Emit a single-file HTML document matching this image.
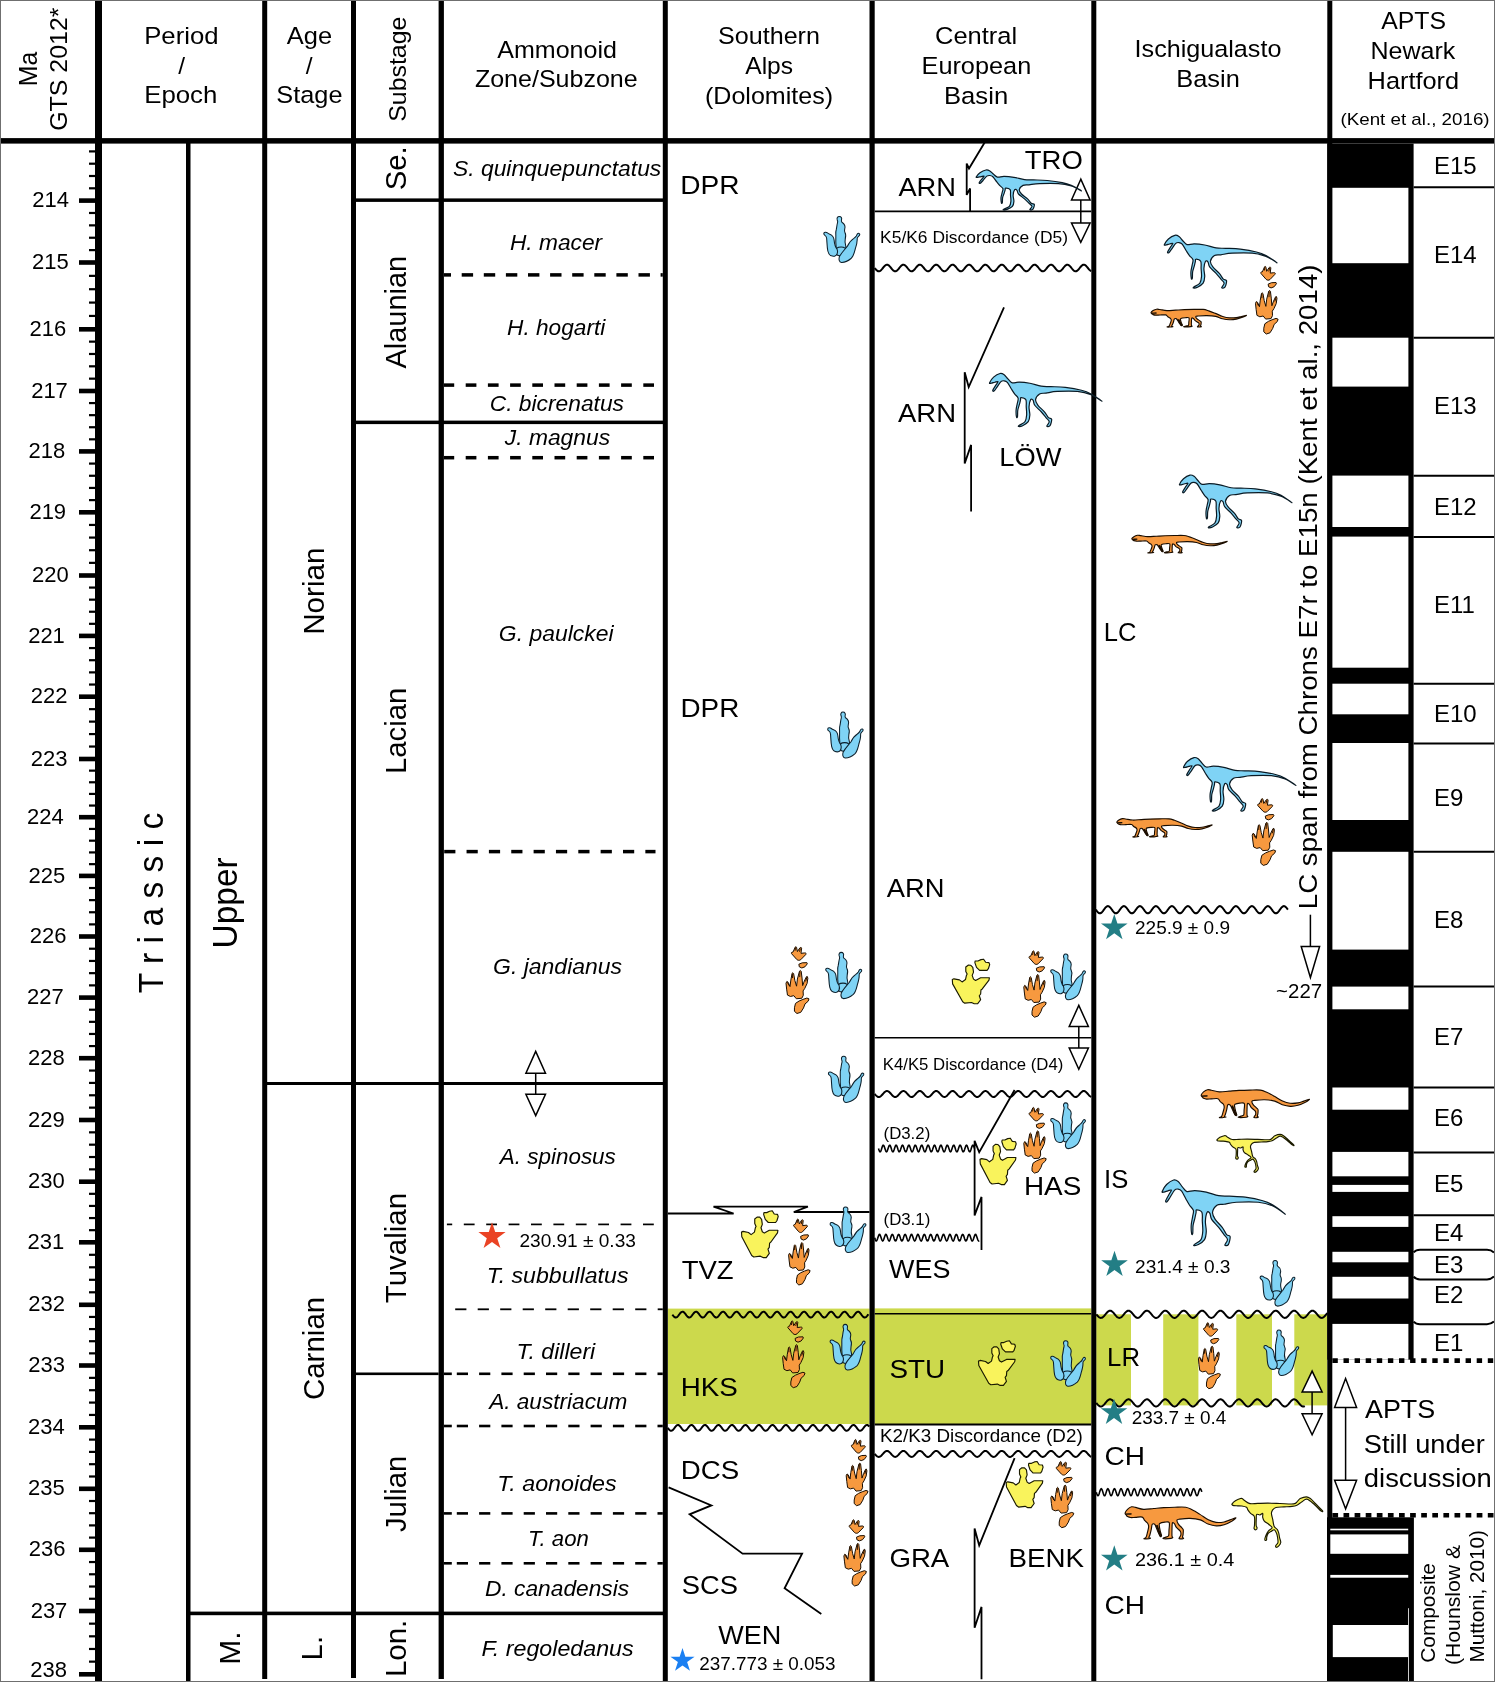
<!DOCTYPE html>
<html><head><meta charset="utf-8"><title>Triassic chronostratigraphy</title>
<style>html,body{margin:0;padding:0;background:#fff;} body{width:1495px;height:1682px;overflow:hidden;} svg{display:block;will-change:transform;} text{font-family:"Liberation Sans",sans-serif;}</style>
</head><body>
<svg width="1495" height="1682" viewBox="0 0 1495 1682" font-family='"Liberation Sans", sans-serif' fill="#000"><defs><g id="bfoot"><g transform="translate(-10.4,-1.3)"><path d="M25.6,1.2 C27.6,1.2 28.4,2.8 27.8,4.6 C27.6,5.4 27.6,6 28.2,6.8 C30.4,8.2 31.8,10.8 31.0,13.4 C30.7,14.8 30.4,15.8 31.2,17 C32.4,18.8 32.0,21.4 31.5,23.4 C31.0,25.6 31.3,27.8 32.0,30 L32.2,32.4 C29,34.2 25.4,34.4 22.6,33 C22.2,29 22.0,25 22.2,21 C22.3,18.6 21.8,16.4 22.6,14.2 C23.2,11.6 23.2,9.4 23.9,7.2 C24.2,6.2 24.0,5.4 23.6,4.6 C23.0,2.8 23.8,1.2 25.6,1.2 Z" fill="#7fd3f5" stroke="#0c1f2b" stroke-width="1.05" vector-effect="non-scaling-stroke"/><path d="M21.8,35.6 C21.8,32.6 24.6,31.2 27.4,31.2 C30.6,31.2 33,32.8 32.8,35.6 C32.5,38.5 29.8,39.8 27,39.8 C24.2,39.8 21.8,38.6 21.8,35.6 Z" fill="#7fd3f5" stroke="#0c1f2b" stroke-width="1.05" vector-effect="non-scaling-stroke"/><path d="M10.3,18.0 C10.4,16.4 12.6,16.2 13.9,17.3 C14.6,17.9 15.3,18.3 16.2,18.6 C18.8,19.6 20.2,21.4 20.5,24.4 C20.8,27.6 21,30.4 23.4,33.2 C24.6,36.4 23.4,39.6 20.9,40.2 C17.4,40.7 15.1,38.6 14.3,35.1 C13.4,31.1 13.5,26.1 13.1,22.6 C13,21.2 12.3,20.3 11.4,19.7 C10.8,19.3 10.3,18.8 10.3,18.0 Z" fill="#7fd3f5" stroke="#0c1f2b" stroke-width="1.05" vector-effect="non-scaling-stroke"/><path d="M45.8,18.5 C46.1,19.6 45.3,20.3 44.4,20.9 C43.6,21.5 43.2,22.3 43.3,23.3 C43.5,26.2 42.6,29.4 41.5,32.8 C40.6,36.3 40,39.8 37.5,42.2 C34.5,44.7 30.5,46.4 27.8,46.3 C25.4,45.9 24.9,43.1 25.8,40.6 C27.5,37.1 30.5,34.3 33.5,30.6 C35,27.6 37,24.6 40,22.7 C41,22 41.8,21.4 42.4,20.4 C42.9,19.4 43.2,18.4 44,17.9 C44.8,17.5 45.6,17.8 45.8,18.5 Z" fill="#7fd3f5" stroke="#0c1f2b" stroke-width="1.05" vector-effect="non-scaling-stroke"/></g></g><g id="ytrack"><path d="M0.00,19.70 L1.60,19.00 L6.90,20.00 L9.50,22.00 L12.80,19.70 L13.70,15.70 L14.40,14.40 L13.10,11.80 L13.10,7.60 L15.40,5.80 L18.00,5.90 L19.90,7.90 L20.60,12.50 L19.30,15.70 L20.60,19.30 L22.60,20.60 L27.50,18.00 L36.00,18.00 L35.60,20.30 L29.10,28.80 L27.80,29.80 L27.50,33.70 L26.20,35.40 L27.50,39.30 L24.50,43.20 L21.30,43.20 L18.60,41.90 L12.10,42.60 L10.10,41.20 L0.30,23.90 Z M22.20,1.70 L24.90,1.70 L27.80,0.40 L30.40,0.00 L32.40,3.00 L35.60,3.30 L36.30,5.30 L35.00,9.20 L33.70,10.80 L26.50,10.80 L23.50,7.90 L21.90,3.30 Z" fill="#f9f35c" stroke="#1a1a00" stroke-width="1.15" vector-effect="non-scaling-stroke" stroke-linejoin="round"/></g><g id="otrack"><g transform="translate(-8.6,-4.2)"><path d="M14,11.5 C13.2,10.6 13.8,9.6 15.2,9.8 L17.4,4.6 C17.8,4 18.4,4.2 18.6,5 L19.4,9.2 L21.8,5.4 C22.4,4.8 23.4,5 23.4,5.8 L22.8,11 L26.2,10.6 C27.6,10.4 28.2,11.4 27.2,12.4 L22.6,17.4 C21.4,18.4 19.8,18.2 18.8,17.2 Z M20.80,22.00 L24.00,20.60 L28.40,20.40 L28.80,21.60 L26.60,24.60 L23.60,25.80 L21.20,24.60 Z M9.40,39.40 L10.60,40.20 L12.40,44.60 L13.20,38.00 L14.40,31.20 L15.00,30.60 L15.80,31.40 L17.00,38.50 L18.60,44.20 L19.40,37.00 L21.40,29.00 L22.20,28.30 L23.00,29.20 L23.80,36.00 L24.40,43.60 L26.00,39.00 L28.00,34.60 L28.80,34.40 L29.30,36.20 L28.60,41.40 L26.40,46.40 L24.80,49.00 L25.00,53.40 L23.60,56.40 L18.40,56.90 L16.00,53.80 L12.80,54.60 L10.00,53.20 L9.20,47.20 L8.60,41.20 Z M16.60,66.00 L17.60,61.60 L21.00,59.20 L24.60,57.60 L28.40,56.20 L30.40,57.00 L29.60,59.40 L26.60,62.20 L25.20,66.20 L22.60,70.60 L19.00,71.80 L16.60,69.60 Z" fill="#f7993f" stroke="#1a0d00" stroke-width="1.0" vector-effect="non-scaling-stroke" stroke-linejoin="round"/><path d="M17.6,5.2 L17.2,8.4 M22.2,6 L21.4,9.4 M14.6,31.6 L14.8,36 M21.8,29.2 L21.6,35 M28.4,35.2 L27.2,39.4 M10,40.4 L11.4,43.6" stroke="#2a1200" stroke-width="1.0" vector-effect="non-scaling-stroke" fill="none"/></g></g><g id="bdino"><path d="M0.00,9.20 C0.40,8.20 2.27,5.13 4.00,3.60 C5.73,2.07 8.65,0.40 10.40,0.00 C12.15,-0.40 13.15,0.27 14.50,1.20 C15.85,2.13 17.17,4.27 18.50,5.60 C19.83,6.93 20.63,8.73 22.50,9.20 C24.37,9.67 26.77,8.33 29.70,8.40 C32.63,8.47 36.48,8.92 40.10,9.60 C43.72,10.28 47.92,11.95 51.40,12.50 C54.88,13.05 56.98,12.70 61.00,12.90 C65.02,13.10 70.42,13.10 75.50,13.70 C80.58,14.30 87.23,15.43 91.50,16.50 C95.77,17.57 97.68,18.30 101.10,20.10 C104.52,21.90 112.00,27.17 112.00,27.30 C112.00,27.43 105.18,22.50 101.10,20.90 C97.02,19.30 93.12,18.23 87.50,17.70 C81.88,17.17 72.62,17.43 67.40,17.70 C62.18,17.97 59.13,18.90 56.20,19.30 C53.27,19.70 51.53,19.03 49.80,20.10 C48.07,21.17 46.07,23.83 45.80,25.70 C45.53,27.57 46.73,29.30 48.20,31.30 C49.67,33.30 52.87,35.68 54.60,37.70 C56.33,39.72 57.40,42.18 58.60,43.40 C59.80,44.62 61.53,43.67 61.80,45.00 C62.07,46.33 61.00,50.27 60.20,51.40 C59.40,52.53 57.13,52.47 57.00,51.80 C56.87,51.13 59.53,48.80 59.40,47.40 C59.27,46.00 57.53,45.02 56.20,43.40 C54.87,41.78 53.27,39.72 51.40,37.70 C49.53,35.68 46.33,33.17 45.00,31.30 C43.67,29.43 44.08,27.43 43.40,26.50 C42.72,25.57 41.58,24.63 40.90,25.70 C40.22,26.77 39.43,30.37 39.30,32.90 C39.17,35.43 40.23,38.48 40.10,40.90 C39.97,43.32 39.70,45.65 38.50,47.40 C37.30,49.15 34.50,50.60 32.90,51.40 C31.30,52.20 29.43,52.27 28.90,52.20 C28.37,52.13 28.63,51.80 29.70,51.00 C30.77,50.20 34.10,49.08 35.30,47.40 C36.50,45.72 36.70,43.32 36.90,40.90 C37.10,38.48 36.63,35.43 36.50,32.90 C36.37,30.37 36.97,27.23 36.10,25.70 C35.23,24.17 32.18,23.65 31.30,23.70 C30.42,23.75 31.07,24.87 30.80,26.00 C30.53,27.13 30.15,28.82 29.70,30.50 C29.25,32.18 28.42,34.10 28.10,36.10 C27.78,38.10 28.02,41.38 27.80,42.50 C27.58,43.62 27.03,43.88 26.80,42.80 C26.57,41.72 26.27,38.22 26.40,36.00 C26.53,33.78 27.27,31.47 27.60,29.50 C27.93,27.53 28.85,25.77 28.40,24.20 C27.95,22.63 26.02,21.58 24.90,20.10 C23.78,18.62 22.90,17.18 21.70,15.30 C20.50,13.42 18.90,10.15 17.70,8.80 C16.50,7.45 15.57,7.33 14.50,7.20 C13.43,7.07 12.52,6.92 11.30,8.00 C10.08,9.08 8.35,12.15 7.20,13.70 C6.05,15.25 5.07,16.83 4.40,17.30 C3.73,17.77 2.87,17.52 3.20,16.50 C3.53,15.48 5.53,12.62 6.40,11.20 C7.27,9.78 8.60,8.43 8.40,8.00 C8.20,7.57 6.33,8.33 5.20,8.60 C4.07,8.87 2.47,9.50 1.60,9.60 C0.73,9.70 -0.40,10.20 0.00,9.20 Z" fill="#7fd3f5" stroke="#0a1a24" stroke-width="1.2" vector-effect="non-scaling-stroke" stroke-linejoin="round"/></g><g id="orept"><g transform="translate(-5.6,-7.6)"><path d="M5.60,13.60 C5.77,12.63 6.93,11.00 8.00,10.00 C9.07,9.00 10.67,7.90 12.00,7.60 C13.33,7.30 14.00,7.80 16.00,8.20 C18.00,8.60 21.00,9.83 24.00,10.00 C27.00,10.17 30.65,9.47 34.00,9.20 C37.35,8.93 40.60,8.60 44.10,8.40 C47.60,8.20 51.38,8.07 55.00,8.00 C58.62,7.93 62.93,7.60 65.80,8.00 C68.67,8.40 69.83,9.27 72.20,10.40 C74.57,11.53 77.32,13.20 80.00,14.80 C82.68,16.40 85.63,18.73 88.30,20.00 C90.97,21.27 93.38,22.07 96.00,22.40 C98.62,22.73 101.67,22.40 104.00,22.00 C106.33,21.60 108.07,20.65 110.00,20.00 C111.93,19.35 115.27,17.93 115.60,18.10 C115.93,18.27 113.93,19.92 112.00,21.00 C110.07,22.08 106.62,23.82 104.00,24.60 C101.38,25.38 98.97,25.80 96.30,25.70 C93.63,25.60 90.67,24.95 88.00,24.00 C85.33,23.05 83.30,20.90 80.30,20.00 C77.30,19.10 73.38,18.72 70.00,18.60 C66.62,18.48 62.13,19.03 60.00,19.30 C57.87,19.57 57.47,19.45 57.20,20.20 C56.93,20.95 57.60,22.57 58.40,23.80 C59.20,25.03 61.17,26.65 62.00,27.60 C62.83,28.55 63.20,28.43 63.40,29.50 C63.60,30.57 63.33,32.85 63.20,34.00 C63.07,35.15 62.53,35.80 62.60,36.40 C62.67,37.00 64.13,37.35 63.60,37.60 C63.07,37.85 60.03,38.07 59.40,37.90 C58.77,37.73 59.53,37.18 59.80,36.60 C60.07,36.02 60.87,35.33 61.00,34.40 C61.13,33.47 61.33,32.20 60.60,31.00 C59.87,29.80 57.60,28.43 56.60,27.20 C55.60,25.97 55.27,24.30 54.60,23.60 C53.93,22.90 53.00,22.10 52.60,23.00 C52.20,23.90 52.27,26.93 52.20,29.00 C52.13,31.07 52.10,34.07 52.20,35.40 C52.30,36.73 53.40,36.58 52.80,37.00 C52.20,37.42 50.18,37.78 48.60,37.90 C47.02,38.02 43.73,37.95 43.30,37.70 C42.87,37.45 45.08,36.82 46.00,36.40 C46.92,35.98 48.27,36.27 48.80,35.20 C49.33,34.13 49.10,32.10 49.20,30.00 C49.30,27.90 50.10,23.90 49.40,22.60 C48.70,21.30 46.57,22.07 45.00,22.20 C43.43,22.33 40.90,22.77 40.00,23.40 C39.10,24.03 39.50,24.73 39.60,26.00 C39.70,27.27 40.23,29.47 40.60,31.00 C40.97,32.53 41.83,34.43 41.80,35.20 C41.77,35.97 40.97,36.17 40.40,35.60 C39.83,35.03 39.07,33.23 38.40,31.80 C37.73,30.37 36.97,28.27 36.40,27.00 C35.83,25.73 35.63,24.67 35.00,24.20 C34.37,23.73 33.17,23.40 32.60,24.20 C32.03,25.00 32.00,27.30 31.60,29.00 C31.20,30.70 30.60,33.07 30.20,34.40 C29.80,35.73 29.10,36.50 29.20,37.00 C29.30,37.50 31.17,37.22 30.80,37.40 C30.43,37.58 28.12,37.98 27.00,38.10 C25.88,38.22 24.20,38.35 24.10,38.10 C24.00,37.85 25.78,37.62 26.40,36.60 C27.02,35.58 27.37,33.67 27.80,32.00 C28.23,30.33 28.97,28.07 29.00,26.60 C29.03,25.13 28.67,24.20 28.00,23.20 C27.33,22.20 25.90,21.57 25.00,20.60 C24.10,19.63 24.10,17.90 22.60,17.40 C21.10,16.90 17.93,17.53 16.00,17.60 C14.07,17.67 12.33,17.92 11.00,17.80 C9.67,17.68 8.67,17.23 8.00,16.90 C7.33,16.57 7.40,16.35 7.00,15.80 C6.60,15.25 5.43,14.57 5.60,13.60 Z" fill="#f7993f" stroke="#1a0d00" stroke-width="1.15" vector-effect="non-scaling-stroke" stroke-linejoin="round"/><path d="M37.0,25.0 C38.2,28.4 39.4,31.8 41.0,35.2" stroke="#1a0d00" stroke-width="2.0" fill="none" vector-effect="non-scaling-stroke"/><path d="M6.2,14.6 C8,14.2 10,14.6 12,14.2" stroke="#1a0d00" stroke-width="1.4" fill="none" vector-effect="non-scaling-stroke"/></g></g><g id="ydino"><path d="M0.00,7.00 C0.50,6.30 1.90,4.78 3.30,3.90 C4.70,3.02 7.23,2.03 8.40,1.70 C9.57,1.37 9.63,1.57 10.30,1.90 C10.97,2.23 11.15,2.90 12.40,3.70 C13.65,4.50 15.58,6.23 17.80,6.70 C20.02,7.17 22.70,6.57 25.70,6.50 C28.70,6.43 32.13,6.28 35.80,6.30 C39.47,6.32 43.45,6.48 47.70,6.60 C51.95,6.72 58.37,7.38 61.30,7.00 C64.23,6.62 64.20,5.18 65.30,4.30 C66.40,3.42 66.45,2.42 67.90,1.70 C69.35,0.98 72.32,0.00 74.00,0.00 C75.68,0.00 76.38,0.48 78.00,1.70 C79.62,2.92 81.70,5.30 83.70,7.30 C85.70,9.30 89.17,12.57 90.00,13.70 C90.83,14.83 90.08,15.17 88.70,14.10 C87.32,13.03 84.05,9.27 81.70,7.30 C79.35,5.33 76.60,2.72 74.60,2.30 C72.60,1.88 71.37,3.80 69.70,4.80 C68.03,5.80 66.27,7.52 64.60,8.30 C62.93,9.08 61.85,9.22 59.70,9.50 C57.55,9.78 54.37,9.83 51.70,10.00 C49.03,10.17 45.60,9.98 43.70,10.50 C41.80,11.02 41.05,12.12 40.30,13.10 C39.55,14.08 39.17,14.87 39.20,16.40 C39.23,17.93 40.05,20.18 40.50,22.30 C40.95,24.42 41.13,27.43 41.90,29.10 C42.67,30.77 44.33,31.18 45.10,32.30 C45.87,33.42 46.13,34.47 46.50,35.80 C46.87,37.13 46.97,38.75 47.30,40.30 C47.63,41.85 48.67,43.70 48.50,45.10 C48.33,46.50 47.07,47.92 46.30,48.70 C45.53,49.48 44.37,49.87 43.90,49.80 C43.43,49.73 43.20,49.08 43.50,48.30 C43.80,47.52 45.40,46.50 45.70,45.10 C46.00,43.70 45.53,41.43 45.30,39.90 C45.07,38.37 44.83,37.13 44.30,35.90 C43.77,34.67 42.93,32.83 42.10,32.50 C41.27,32.17 40.35,33.27 39.30,33.90 C38.25,34.53 36.60,35.30 35.80,36.30 C35.00,37.30 34.75,38.83 34.50,39.90 C34.25,40.97 34.57,42.20 34.30,42.70 C34.03,43.20 33.17,43.13 32.90,42.90 C32.63,42.67 32.53,42.17 32.70,41.30 C32.87,40.43 33.30,38.97 33.90,37.70 C34.50,36.43 35.30,34.90 36.30,33.70 C37.30,32.50 39.83,31.57 39.90,30.50 C39.97,29.43 38.00,28.40 36.70,27.30 C35.40,26.20 33.13,25.07 32.10,23.90 C31.07,22.73 30.77,21.55 30.50,20.30 C30.23,19.05 30.97,16.80 30.50,16.40 C30.03,16.00 28.70,17.75 27.70,17.90 C26.70,18.05 25.10,16.73 24.50,17.30 C23.90,17.87 24.18,19.47 24.10,21.30 C24.02,23.13 23.87,26.73 24.00,28.30 C24.13,29.87 24.93,30.00 24.90,30.70 C24.87,31.40 24.30,32.40 23.80,32.50 C23.30,32.60 22.15,32.00 21.90,31.30 C21.65,30.60 22.20,29.80 22.30,28.30 C22.40,26.80 22.57,23.87 22.50,22.30 C22.43,20.73 22.58,19.88 21.90,18.90 C21.22,17.92 19.43,17.40 18.40,16.40 C17.37,15.40 16.37,13.90 15.70,12.90 C15.03,11.90 15.40,11.03 14.40,10.40 C13.40,9.77 11.15,9.35 9.70,9.10 C8.25,8.85 7.03,8.97 5.70,8.90 C4.37,8.83 2.60,8.83 1.70,8.70 C0.80,8.57 0.58,8.38 0.30,8.10 C0.02,7.82 -0.50,7.70 0.00,7.00 Z" fill="#f9f35c" stroke="#1a1a00" stroke-width="1.15" vector-effect="non-scaling-stroke" stroke-linejoin="round"/></g></defs><rect width="1495" height="1682" fill="#fff"/><rect x="667.8" y="1308.6" width="201.8" height="115.4" fill="#ccd94c" />
<rect x="874.7" y="1308.4" width="216.7" height="115.6" fill="#ccd94c" />
<rect x="1096.2" y="1314.3" width="34.8" height="91.1" fill="#ccd94c" />
<rect x="1163.2" y="1314.3" width="35.2" height="91.1" fill="#ccd94c" />
<rect x="1236.3" y="1314.3" width="35.7" height="91.1" fill="#ccd94c" />
<rect x="1294.3" y="1314.3" width="33.1" height="91.1" fill="#ccd94c" />
<rect x="0" y="138.1" width="1495" height="5.5" fill="#000" />
<rect x="95" y="0" width="7" height="1682" fill="#000" />
<rect x="262.2" y="0" width="5" height="1679" fill="#000" />
<rect x="351" y="0" width="5" height="1678" fill="#000" />
<rect x="438.6" y="0" width="5.3" height="1679" fill="#000" />
<rect x="662.8" y="0" width="5" height="1682" fill="#000" />
<rect x="869.5" y="0" width="5.2" height="1682" fill="#000" />
<rect x="1091.3" y="0" width="5" height="1682" fill="#000" />
<rect x="1327.3" y="0" width="5" height="1682" fill="#000" />
<rect x="186" y="143" width="4.5" height="1539" fill="#000" />
<rect x="356" y="198.4" width="307" height="3.5" fill="#000" />
<rect x="356" y="420.6" width="307" height="3.5" fill="#000" />
<rect x="267" y="1082" width="396" height="3" fill="#000" />
<rect x="356" y="1372.5" width="82.6" height="2.6" fill="#000" />
<rect x="186" y="1611.6" width="477" height="3.6" fill="#000" />
<rect x="79" y="198.3" width="16.5" height="4.6" fill="#000" />
<text x="50.65" y="207.2" font-size="22" text-anchor="middle" >214</text>
<rect x="79" y="260.2" width="16.5" height="4.6" fill="#000" />
<text x="50.45" y="269.1" font-size="22" text-anchor="middle" >215</text>
<rect x="79" y="327" width="16.5" height="4.6" fill="#000" />
<text x="47.85" y="335.9" font-size="22" text-anchor="middle" >216</text>
<rect x="79" y="388.7" width="16.5" height="4.6" fill="#000" />
<text x="49.5" y="397.6" font-size="22" text-anchor="middle" >217</text>
<rect x="79" y="449.1" width="16.5" height="4.6" fill="#000" />
<text x="46.95" y="458" font-size="22" text-anchor="middle" >218</text>
<rect x="79" y="510" width="16.5" height="4.6" fill="#000" />
<text x="47.75" y="518.9" font-size="22" text-anchor="middle" >219</text>
<rect x="79" y="573.2" width="16.5" height="4.6" fill="#000" />
<text x="50.45" y="582.1" font-size="22" text-anchor="middle" >220</text>
<rect x="79" y="633.6" width="16.5" height="4.6" fill="#000" />
<text x="46.5" y="642.5" font-size="22" text-anchor="middle" >221</text>
<rect x="79" y="694.4" width="16.5" height="4.6" fill="#000" />
<text x="49.05" y="703.3" font-size="22" text-anchor="middle" >222</text>
<rect x="79" y="756.7" width="16.5" height="4.6" fill="#000" />
<text x="49.05" y="765.6" font-size="22" text-anchor="middle" >223</text>
<rect x="79" y="814.9" width="16.5" height="4.6" fill="#000" />
<text x="45.45" y="823.8" font-size="22" text-anchor="middle" >224</text>
<rect x="79" y="873.6" width="16.5" height="4.6" fill="#000" />
<text x="46.9" y="882.5" font-size="22" text-anchor="middle" >225</text>
<rect x="79" y="934.2" width="16.5" height="4.6" fill="#000" />
<text x="48.1" y="943.1" font-size="22" text-anchor="middle" >226</text>
<rect x="79" y="995.3" width="16.5" height="4.6" fill="#000" />
<text x="45.45" y="1004.2" font-size="22" text-anchor="middle" >227</text>
<rect x="79" y="1055.9" width="16.5" height="4.6" fill="#000" />
<text x="46.45" y="1064.8" font-size="22" text-anchor="middle" >228</text>
<rect x="79" y="1117.7" width="16.5" height="4.6" fill="#000" />
<text x="46.45" y="1126.6" font-size="22" text-anchor="middle" >229</text>
<rect x="79" y="1179.4" width="16.5" height="4.6" fill="#000" />
<text x="46.45" y="1188.3" font-size="22" text-anchor="middle" >230</text>
<rect x="79" y="1240" width="16.5" height="4.6" fill="#000" />
<text x="45.85" y="1248.9" font-size="22" text-anchor="middle" >231</text>
<rect x="79" y="1302.5" width="16.5" height="4.6" fill="#000" />
<text x="46.7" y="1311.4" font-size="22" text-anchor="middle" >232</text>
<rect x="79" y="1363.2" width="16.5" height="4.6" fill="#000" />
<text x="46.7" y="1372.1" font-size="22" text-anchor="middle" >233</text>
<rect x="79" y="1425" width="16.5" height="4.6" fill="#000" />
<text x="46.3" y="1433.9" font-size="22" text-anchor="middle" >234</text>
<rect x="79" y="1486.5" width="16.5" height="4.6" fill="#000" />
<text x="46.3" y="1495.4" font-size="22" text-anchor="middle" >235</text>
<rect x="79" y="1547.5" width="16.5" height="4.6" fill="#000" />
<text x="47.2" y="1556.4" font-size="22" text-anchor="middle" >236</text>
<rect x="79" y="1608.7" width="16.5" height="4.6" fill="#000" />
<text x="49" y="1617.6" font-size="22" text-anchor="middle" >237</text>
<rect x="79" y="1672" width="16.5" height="4.6" fill="#000" />
<text x="48.65" y="1676.8" font-size="22" text-anchor="middle" >238</text>
<rect x="89" y="211.88" width="6.5" height="2.2" fill="#000" />
<rect x="89" y="224.26" width="6.5" height="2.2" fill="#000" />
<rect x="89" y="236.64" width="6.5" height="2.2" fill="#000" />
<rect x="89" y="249.02" width="6.5" height="2.2" fill="#000" />
<rect x="89" y="274.76" width="6.5" height="2.2" fill="#000" />
<rect x="89" y="288.12" width="6.5" height="2.2" fill="#000" />
<rect x="89" y="301.48" width="6.5" height="2.2" fill="#000" />
<rect x="89" y="314.84" width="6.5" height="2.2" fill="#000" />
<rect x="89" y="340.54" width="6.5" height="2.2" fill="#000" />
<rect x="89" y="352.88" width="6.5" height="2.2" fill="#000" />
<rect x="89" y="365.22" width="6.5" height="2.2" fill="#000" />
<rect x="89" y="377.56" width="6.5" height="2.2" fill="#000" />
<rect x="89" y="401.98" width="6.5" height="2.2" fill="#000" />
<rect x="89" y="414.06" width="6.5" height="2.2" fill="#000" />
<rect x="89" y="426.14" width="6.5" height="2.2" fill="#000" />
<rect x="89" y="438.22" width="6.5" height="2.2" fill="#000" />
<rect x="89" y="462.48" width="6.5" height="2.2" fill="#000" />
<rect x="89" y="474.66" width="6.5" height="2.2" fill="#000" />
<rect x="89" y="486.84" width="6.5" height="2.2" fill="#000" />
<rect x="89" y="499.02" width="6.5" height="2.2" fill="#000" />
<rect x="89" y="523.84" width="6.5" height="2.2" fill="#000" />
<rect x="89" y="536.48" width="6.5" height="2.2" fill="#000" />
<rect x="89" y="549.12" width="6.5" height="2.2" fill="#000" />
<rect x="89" y="561.76" width="6.5" height="2.2" fill="#000" />
<rect x="89" y="586.48" width="6.5" height="2.2" fill="#000" />
<rect x="89" y="598.56" width="6.5" height="2.2" fill="#000" />
<rect x="89" y="610.64" width="6.5" height="2.2" fill="#000" />
<rect x="89" y="622.72" width="6.5" height="2.2" fill="#000" />
<rect x="89" y="646.96" width="6.5" height="2.2" fill="#000" />
<rect x="89" y="659.12" width="6.5" height="2.2" fill="#000" />
<rect x="89" y="671.28" width="6.5" height="2.2" fill="#000" />
<rect x="89" y="683.44" width="6.5" height="2.2" fill="#000" />
<rect x="89" y="708.06" width="6.5" height="2.2" fill="#000" />
<rect x="89" y="720.52" width="6.5" height="2.2" fill="#000" />
<rect x="89" y="732.98" width="6.5" height="2.2" fill="#000" />
<rect x="89" y="745.44" width="6.5" height="2.2" fill="#000" />
<rect x="89" y="769.54" width="6.5" height="2.2" fill="#000" />
<rect x="89" y="781.18" width="6.5" height="2.2" fill="#000" />
<rect x="89" y="792.82" width="6.5" height="2.2" fill="#000" />
<rect x="89" y="804.46" width="6.5" height="2.2" fill="#000" />
<rect x="89" y="827.84" width="6.5" height="2.2" fill="#000" />
<rect x="89" y="839.58" width="6.5" height="2.2" fill="#000" />
<rect x="89" y="851.32" width="6.5" height="2.2" fill="#000" />
<rect x="89" y="863.06" width="6.5" height="2.2" fill="#000" />
<rect x="89" y="886.92" width="6.5" height="2.2" fill="#000" />
<rect x="89" y="899.04" width="6.5" height="2.2" fill="#000" />
<rect x="89" y="911.16" width="6.5" height="2.2" fill="#000" />
<rect x="89" y="923.28" width="6.5" height="2.2" fill="#000" />
<rect x="89" y="947.62" width="6.5" height="2.2" fill="#000" />
<rect x="89" y="959.84" width="6.5" height="2.2" fill="#000" />
<rect x="89" y="972.06" width="6.5" height="2.2" fill="#000" />
<rect x="89" y="984.28" width="6.5" height="2.2" fill="#000" />
<rect x="89" y="1008.62" width="6.5" height="2.2" fill="#000" />
<rect x="89" y="1020.74" width="6.5" height="2.2" fill="#000" />
<rect x="89" y="1032.86" width="6.5" height="2.2" fill="#000" />
<rect x="89" y="1044.98" width="6.5" height="2.2" fill="#000" />
<rect x="89" y="1069.46" width="6.5" height="2.2" fill="#000" />
<rect x="89" y="1081.82" width="6.5" height="2.2" fill="#000" />
<rect x="89" y="1094.18" width="6.5" height="2.2" fill="#000" />
<rect x="89" y="1106.54" width="6.5" height="2.2" fill="#000" />
<rect x="89" y="1131.24" width="6.5" height="2.2" fill="#000" />
<rect x="89" y="1143.58" width="6.5" height="2.2" fill="#000" />
<rect x="89" y="1155.92" width="6.5" height="2.2" fill="#000" />
<rect x="89" y="1168.26" width="6.5" height="2.2" fill="#000" />
<rect x="89" y="1192.72" width="6.5" height="2.2" fill="#000" />
<rect x="89" y="1204.84" width="6.5" height="2.2" fill="#000" />
<rect x="89" y="1216.96" width="6.5" height="2.2" fill="#000" />
<rect x="89" y="1229.08" width="6.5" height="2.2" fill="#000" />
<rect x="89" y="1253.7" width="6.5" height="2.2" fill="#000" />
<rect x="89" y="1266.2" width="6.5" height="2.2" fill="#000" />
<rect x="89" y="1278.7" width="6.5" height="2.2" fill="#000" />
<rect x="89" y="1291.2" width="6.5" height="2.2" fill="#000" />
<rect x="89" y="1315.84" width="6.5" height="2.2" fill="#000" />
<rect x="89" y="1327.98" width="6.5" height="2.2" fill="#000" />
<rect x="89" y="1340.12" width="6.5" height="2.2" fill="#000" />
<rect x="89" y="1352.26" width="6.5" height="2.2" fill="#000" />
<rect x="89" y="1376.76" width="6.5" height="2.2" fill="#000" />
<rect x="89" y="1389.12" width="6.5" height="2.2" fill="#000" />
<rect x="89" y="1401.48" width="6.5" height="2.2" fill="#000" />
<rect x="89" y="1413.84" width="6.5" height="2.2" fill="#000" />
<rect x="89" y="1438.5" width="6.5" height="2.2" fill="#000" />
<rect x="89" y="1450.8" width="6.5" height="2.2" fill="#000" />
<rect x="89" y="1463.1" width="6.5" height="2.2" fill="#000" />
<rect x="89" y="1475.4" width="6.5" height="2.2" fill="#000" />
<rect x="89" y="1499.9" width="6.5" height="2.2" fill="#000" />
<rect x="89" y="1512.1" width="6.5" height="2.2" fill="#000" />
<rect x="89" y="1524.3" width="6.5" height="2.2" fill="#000" />
<rect x="89" y="1536.5" width="6.5" height="2.2" fill="#000" />
<rect x="89" y="1560.94" width="6.5" height="2.2" fill="#000" />
<rect x="89" y="1573.18" width="6.5" height="2.2" fill="#000" />
<rect x="89" y="1585.42" width="6.5" height="2.2" fill="#000" />
<rect x="89" y="1597.66" width="6.5" height="2.2" fill="#000" />
<rect x="89" y="1622.56" width="6.5" height="2.2" fill="#000" />
<rect x="89" y="1635.22" width="6.5" height="2.2" fill="#000" />
<rect x="89" y="1647.88" width="6.5" height="2.2" fill="#000" />
<rect x="89" y="1660.54" width="6.5" height="2.2" fill="#000" />
<rect x="89" y="187.2" width="6.5" height="2.2" fill="#000" />
<rect x="89" y="174.9" width="6.5" height="2.2" fill="#000" />
<rect x="89" y="162.6" width="6.5" height="2.2" fill="#000" />
<rect x="89" y="150.3" width="6.5" height="2.2" fill="#000" />
<text transform="translate(36.8,86.14) rotate(-90)" x="0" y="0" font-size="25.5" text-anchor="start" textLength="34.52" lengthAdjust="spacingAndGlyphs">Ma</text>
<text transform="translate(67.3,130.75) rotate(-90)" x="0" y="0" font-size="24.5" text-anchor="start" textLength="123.23" lengthAdjust="spacingAndGlyphs">GTS 2012*</text>
<text x="144.19" y="43.6" font-size="24.5" text-anchor="start" textLength="74.35" lengthAdjust="spacingAndGlyphs" >Period</text>
<text x="181.6" y="73.5" font-size="24.5" text-anchor="middle" >/</text>
<text x="144.18" y="103.3" font-size="24.5" text-anchor="start" textLength="73.18" lengthAdjust="spacingAndGlyphs" >Epoch</text>
<text x="286.85" y="43.6" font-size="24.5" text-anchor="start" textLength="45.28" lengthAdjust="spacingAndGlyphs" >Age</text>
<text x="309.2" y="73.5" font-size="24.5" text-anchor="middle" >/</text>
<text x="276.36" y="103.3" font-size="24.5" text-anchor="start" textLength="66.16" lengthAdjust="spacingAndGlyphs" >Stage</text>
<text transform="translate(406,121.82) rotate(-90)" x="0" y="0" font-size="24.5" text-anchor="start" textLength="105.23" lengthAdjust="spacingAndGlyphs">Substage</text>
<text x="497.25" y="57.6" font-size="24.5" text-anchor="start" textLength="119.65" lengthAdjust="spacingAndGlyphs" >Ammonoid</text>
<text x="474.92" y="87.4" font-size="24.5" text-anchor="start" textLength="162.77" lengthAdjust="spacingAndGlyphs" >Zone/Subzone</text>
<text x="718.07" y="44.3" font-size="24.5" text-anchor="start" textLength="101.85" lengthAdjust="spacingAndGlyphs" >Southern</text>
<text x="745.25" y="74" font-size="24.5" text-anchor="start" textLength="47.84" lengthAdjust="spacingAndGlyphs" >Alps</text>
<text x="704.95" y="103.5" font-size="24.5" text-anchor="start" textLength="128.1" lengthAdjust="spacingAndGlyphs" >(Dolomites)</text>
<text x="935.03" y="43.7" font-size="24.5" text-anchor="start" textLength="82.17" lengthAdjust="spacingAndGlyphs" >Central</text>
<text x="921.53" y="74" font-size="24.5" text-anchor="start" textLength="109.69" lengthAdjust="spacingAndGlyphs" >European</text>
<text x="944" y="103.5" font-size="24.5" text-anchor="start" textLength="64.16" lengthAdjust="spacingAndGlyphs" >Basin</text>
<text x="1134.59" y="56.7" font-size="24.5" text-anchor="start" textLength="146.84" lengthAdjust="spacingAndGlyphs" >Ischigualasto</text>
<text x="1176.32" y="86.6" font-size="24.5" text-anchor="start" textLength="63.52" lengthAdjust="spacingAndGlyphs" >Basin</text>
<text x="1381.25" y="29.2" font-size="24.5" text-anchor="start" textLength="64.86" lengthAdjust="spacingAndGlyphs" >APTS</text>
<text x="1370.45" y="59.4" font-size="24.5" text-anchor="start" textLength="84.79" lengthAdjust="spacingAndGlyphs" >Newark</text>
<text x="1367.62" y="88.9" font-size="24.5" text-anchor="start" textLength="91.51" lengthAdjust="spacingAndGlyphs" >Hartford</text>
<text x="1340.44" y="124.5" font-size="17" text-anchor="start" textLength="149.13" lengthAdjust="spacingAndGlyphs" >(Kent et al., 2016)</text>
<text transform="translate(162.8,993.24) rotate(-90)" x="0" y="0" font-size="34.3" text-anchor="start" textLength="180.62" lengthAdjust="spacingAndGlyphs">T r i a s s i c</text>
<text transform="translate(237,948.48) rotate(-90)" x="0" y="0" font-size="35.2" text-anchor="start" textLength="91.1" lengthAdjust="spacingAndGlyphs">Upper</text>
<text transform="translate(239.7,1664.65) rotate(-90)" x="0" y="0" font-size="30" text-anchor="start" textLength="33.16" lengthAdjust="spacingAndGlyphs">M.</text>
<text transform="translate(321.9,1660.41) rotate(-90)" x="0" y="0" font-size="30" text-anchor="start" textLength="24.48" lengthAdjust="spacingAndGlyphs">L.</text>
<text transform="translate(405.7,1677.12) rotate(-90)" x="0" y="0" font-size="30" text-anchor="start" textLength="57.41" lengthAdjust="spacingAndGlyphs">Lon.</text>
<text transform="translate(324.2,634.83) rotate(-90)" x="0" y="0" font-size="30" text-anchor="start" textLength="87.32" lengthAdjust="spacingAndGlyphs">Norian</text>
<text transform="translate(324.2,1400.07) rotate(-90)" x="0" y="0" font-size="30" text-anchor="start" textLength="103.26" lengthAdjust="spacingAndGlyphs">Carnian</text>
<text transform="translate(406.3,190.32) rotate(-90)" x="0" y="0" font-size="30" text-anchor="start" textLength="44.09" lengthAdjust="spacingAndGlyphs">Se.</text>
<text transform="translate(406.3,368.46) rotate(-90)" x="0" y="0" font-size="30" text-anchor="start" textLength="112.51" lengthAdjust="spacingAndGlyphs">Alaunian</text>
<text transform="translate(406.3,774) rotate(-90)" x="0" y="0" font-size="30" text-anchor="start" textLength="86.37" lengthAdjust="spacingAndGlyphs">Lacian</text>
<text transform="translate(406.3,1303.25) rotate(-90)" x="0" y="0" font-size="30" text-anchor="start" textLength="110.43" lengthAdjust="spacingAndGlyphs">Tuvalian</text>
<text transform="translate(406.3,1532.04) rotate(-90)" x="0" y="0" font-size="30" text-anchor="start" textLength="76.4" lengthAdjust="spacingAndGlyphs">Julian</text>
<text x="453.06" y="176.3" font-size="22.6" text-anchor="start" font-style="italic" textLength="208.2" lengthAdjust="spacingAndGlyphs" >S. quinquepunctatus</text>
<text x="509.92" y="249.9" font-size="22.6" text-anchor="start" font-style="italic" textLength="92.21" lengthAdjust="spacingAndGlyphs" >H. macer</text>
<text x="507.02" y="335.3" font-size="22.6" text-anchor="start" font-style="italic" textLength="98.27" lengthAdjust="spacingAndGlyphs" >H. hogarti</text>
<text x="489.75" y="410.9" font-size="22.6" text-anchor="start" font-style="italic" textLength="134.2" lengthAdjust="spacingAndGlyphs" >C. bicrenatus</text>
<text x="504.77" y="445.2" font-size="22.6" text-anchor="start" font-style="italic" textLength="105.4" lengthAdjust="spacingAndGlyphs" >J. magnus</text>
<text x="498.88" y="641.2" font-size="22.6" text-anchor="start" font-style="italic" textLength="114.61" lengthAdjust="spacingAndGlyphs" >G. paulckei</text>
<text x="493.07" y="974.1" font-size="22.6" text-anchor="start" font-style="italic" textLength="128.98" lengthAdjust="spacingAndGlyphs" >G. jandianus</text>
<text x="499.72" y="1163.7" font-size="22.6" text-anchor="start" font-style="italic" textLength="116.14" lengthAdjust="spacingAndGlyphs" >A. spinosus</text>
<text x="486.74" y="1283.2" font-size="22.6" text-anchor="start" font-style="italic" textLength="141.71" lengthAdjust="spacingAndGlyphs" >T. subbullatus</text>
<text x="516.54" y="1358.6" font-size="22.6" text-anchor="start" font-style="italic" textLength="78.72" lengthAdjust="spacingAndGlyphs" >T. dilleri</text>
<text x="489.13" y="1409.4" font-size="22.6" text-anchor="start" font-style="italic" textLength="138.32" lengthAdjust="spacingAndGlyphs" >A. austriacum</text>
<text x="497.23" y="1491.1" font-size="22.6" text-anchor="start" font-style="italic" textLength="119.43" lengthAdjust="spacingAndGlyphs" >T. aonoides</text>
<text x="528.03" y="1545.6" font-size="22.6" text-anchor="start" font-style="italic" textLength="60.77" lengthAdjust="spacingAndGlyphs" >T. aon</text>
<text x="485.02" y="1595.6" font-size="22.6" text-anchor="start" font-style="italic" textLength="144.14" lengthAdjust="spacingAndGlyphs" >D. canadensis</text>
<text x="481.6" y="1656.4" font-size="22.6" text-anchor="start" font-style="italic" textLength="152.06" lengthAdjust="spacingAndGlyphs" >F. regoledanus</text>
<rect x="444" y="273.15" width="7" height="3.5" fill="#000" />
<rect x="461.7" y="273.15" width="11.4" height="3.5" fill="#000" />
<rect x="483.8" y="273.15" width="11.4" height="3.5" fill="#000" />
<rect x="505.9" y="273.15" width="11.4" height="3.5" fill="#000" />
<rect x="528" y="273.15" width="11.4" height="3.5" fill="#000" />
<rect x="550.1" y="273.15" width="11.4" height="3.5" fill="#000" />
<rect x="572.2" y="273.15" width="11.4" height="3.5" fill="#000" />
<rect x="594.3" y="273.15" width="11.4" height="3.5" fill="#000" />
<rect x="616.4" y="273.15" width="11.4" height="3.5" fill="#000" />
<rect x="638.5" y="273.15" width="11.4" height="3.5" fill="#000" />
<rect x="660.6" y="273.15" width="2.2" height="3.5" fill="#000" />
<rect x="444" y="383.35" width="10.2" height="3.5" fill="#000" />
<rect x="465.7" y="383.35" width="10.7" height="3.5" fill="#000" />
<rect x="487.9" y="383.35" width="10.7" height="3.5" fill="#000" />
<rect x="510.1" y="383.35" width="10.7" height="3.5" fill="#000" />
<rect x="532.3" y="383.35" width="10.7" height="3.5" fill="#000" />
<rect x="554.5" y="383.35" width="10.7" height="3.5" fill="#000" />
<rect x="576.7" y="383.35" width="10.7" height="3.5" fill="#000" />
<rect x="598.9" y="383.35" width="10.7" height="3.5" fill="#000" />
<rect x="621.1" y="383.35" width="10.7" height="3.5" fill="#000" />
<rect x="643.3" y="383.35" width="10.7" height="3.5" fill="#000" />
<rect x="444" y="455.95" width="10.2" height="3.5" fill="#000" />
<rect x="465.7" y="455.95" width="10.7" height="3.5" fill="#000" />
<rect x="487.9" y="455.95" width="10.7" height="3.5" fill="#000" />
<rect x="510.1" y="455.95" width="10.7" height="3.5" fill="#000" />
<rect x="532.3" y="455.95" width="10.7" height="3.5" fill="#000" />
<rect x="554.5" y="455.95" width="10.7" height="3.5" fill="#000" />
<rect x="576.7" y="455.95" width="10.7" height="3.5" fill="#000" />
<rect x="598.9" y="455.95" width="10.7" height="3.5" fill="#000" />
<rect x="621.1" y="455.95" width="10.7" height="3.5" fill="#000" />
<rect x="643.3" y="455.95" width="10.7" height="3.5" fill="#000" />
<rect x="444.2" y="849.85" width="11.2" height="3.5" fill="#000" />
<rect x="466.55" y="849.85" width="11.2" height="3.5" fill="#000" />
<rect x="488.9" y="849.85" width="11.2" height="3.5" fill="#000" />
<rect x="511.25" y="849.85" width="11.2" height="3.5" fill="#000" />
<rect x="533.6" y="849.85" width="11.2" height="3.5" fill="#000" />
<rect x="555.95" y="849.85" width="11.2" height="3.5" fill="#000" />
<rect x="578.3" y="849.85" width="11.2" height="3.5" fill="#000" />
<rect x="600.65" y="849.85" width="11.2" height="3.5" fill="#000" />
<rect x="623" y="849.85" width="11.2" height="3.5" fill="#000" />
<rect x="645.35" y="849.85" width="10.15" height="3.5" fill="#000" />
<rect x="446.9" y="1223.55" width="5.3" height="1.7" fill="#000" />
<rect x="463.8" y="1223.55" width="10.8" height="1.7" fill="#000" />
<rect x="486.2" y="1223.55" width="10.8" height="1.7" fill="#000" />
<rect x="508.6" y="1223.55" width="10.8" height="1.7" fill="#000" />
<rect x="531" y="1223.55" width="10.8" height="1.7" fill="#000" />
<rect x="553.4" y="1223.55" width="10.8" height="1.7" fill="#000" />
<rect x="575.8" y="1223.55" width="10.8" height="1.7" fill="#000" />
<rect x="598.2" y="1223.55" width="10.8" height="1.7" fill="#000" />
<rect x="620.6" y="1223.55" width="10.8" height="1.7" fill="#000" />
<rect x="643" y="1223.55" width="10.8" height="1.7" fill="#000" />
<rect x="455.2" y="1308.4" width="11.2" height="1.8" fill="#000" />
<rect x="477.7" y="1308.4" width="11.2" height="1.8" fill="#000" />
<rect x="500.2" y="1308.4" width="11.2" height="1.8" fill="#000" />
<rect x="522.7" y="1308.4" width="11.2" height="1.8" fill="#000" />
<rect x="545.2" y="1308.4" width="11.2" height="1.8" fill="#000" />
<rect x="567.7" y="1308.4" width="11.2" height="1.8" fill="#000" />
<rect x="590.2" y="1308.4" width="11.2" height="1.8" fill="#000" />
<rect x="612.7" y="1308.4" width="11.2" height="1.8" fill="#000" />
<rect x="635.2" y="1308.4" width="11.2" height="1.8" fill="#000" />
<rect x="657.7" y="1308.4" width="5.1" height="1.8" fill="#000" />
<rect x="456.8" y="1372.5" width="11.2" height="2.6" fill="#000" />
<rect x="479.1" y="1372.5" width="11.2" height="2.6" fill="#000" />
<rect x="501.4" y="1372.5" width="11.2" height="2.6" fill="#000" />
<rect x="523.7" y="1372.5" width="11.2" height="2.6" fill="#000" />
<rect x="546" y="1372.5" width="11.2" height="2.6" fill="#000" />
<rect x="568.3" y="1372.5" width="11.2" height="2.6" fill="#000" />
<rect x="590.6" y="1372.5" width="11.2" height="2.6" fill="#000" />
<rect x="612.9" y="1372.5" width="11.2" height="2.6" fill="#000" />
<rect x="635.2" y="1372.5" width="11.2" height="2.6" fill="#000" />
<rect x="657.5" y="1372.5" width="5.3" height="2.6" fill="#000" />
<rect x="443.9" y="1372.5" width="7.9" height="2.6" fill="#000" />
<rect x="456.8" y="1424.7" width="11.2" height="2.6" fill="#000" />
<rect x="479.1" y="1424.7" width="11.2" height="2.6" fill="#000" />
<rect x="501.4" y="1424.7" width="11.2" height="2.6" fill="#000" />
<rect x="523.7" y="1424.7" width="11.2" height="2.6" fill="#000" />
<rect x="546" y="1424.7" width="11.2" height="2.6" fill="#000" />
<rect x="568.3" y="1424.7" width="11.2" height="2.6" fill="#000" />
<rect x="590.6" y="1424.7" width="11.2" height="2.6" fill="#000" />
<rect x="612.9" y="1424.7" width="11.2" height="2.6" fill="#000" />
<rect x="635.2" y="1424.7" width="11.2" height="2.6" fill="#000" />
<rect x="657.5" y="1424.7" width="5.3" height="2.6" fill="#000" />
<rect x="443.9" y="1424.7" width="7.9" height="2.6" fill="#000" />
<rect x="456.8" y="1512.1" width="11.2" height="2.6" fill="#000" />
<rect x="479.1" y="1512.1" width="11.2" height="2.6" fill="#000" />
<rect x="501.4" y="1512.1" width="11.2" height="2.6" fill="#000" />
<rect x="523.7" y="1512.1" width="11.2" height="2.6" fill="#000" />
<rect x="546" y="1512.1" width="11.2" height="2.6" fill="#000" />
<rect x="568.3" y="1512.1" width="11.2" height="2.6" fill="#000" />
<rect x="590.6" y="1512.1" width="11.2" height="2.6" fill="#000" />
<rect x="612.9" y="1512.1" width="11.2" height="2.6" fill="#000" />
<rect x="635.2" y="1512.1" width="11.2" height="2.6" fill="#000" />
<rect x="657.5" y="1512.1" width="5.3" height="2.6" fill="#000" />
<rect x="443.9" y="1512.1" width="7.9" height="2.6" fill="#000" />
<rect x="456.8" y="1562" width="11.2" height="2.6" fill="#000" />
<rect x="479.1" y="1562" width="11.2" height="2.6" fill="#000" />
<rect x="501.4" y="1562" width="11.2" height="2.6" fill="#000" />
<rect x="523.7" y="1562" width="11.2" height="2.6" fill="#000" />
<rect x="546" y="1562" width="11.2" height="2.6" fill="#000" />
<rect x="568.3" y="1562" width="11.2" height="2.6" fill="#000" />
<rect x="590.6" y="1562" width="11.2" height="2.6" fill="#000" />
<rect x="612.9" y="1562" width="11.2" height="2.6" fill="#000" />
<rect x="635.2" y="1562" width="11.2" height="2.6" fill="#000" />
<rect x="657.5" y="1562" width="5.3" height="2.6" fill="#000" />
<rect x="443.9" y="1562" width="7.9" height="2.6" fill="#000" />
<line x1="535.7" y1="1073.2" x2="535.7" y2="1094.2" stroke="#000" stroke-width="1.5"/>
<polygon points="535.7,1051.4 525.9,1073.2 545.5,1073.2" fill="#fff" stroke="#000" stroke-width="1.5" stroke-linejoin="miter"/>
<polygon points="535.7,1115.6 525.9,1094.2 545.5,1094.2" fill="#fff" stroke="#000" stroke-width="1.5" stroke-linejoin="miter"/>
<polygon points="492,1222.2 495.21,1232.08 505.6,1232.08 497.2,1238.19 500.41,1248.07 492,1241.96 483.59,1248.07 486.8,1238.19 478.4,1232.08 488.79,1232.08" fill="#ea4324"/>
<text x="519.45" y="1246.7" font-size="18.7" text-anchor="start" textLength="116.38" lengthAdjust="spacingAndGlyphs" >230.91 ± 0.33</text>
<text x="680.2" y="194.1" font-size="26" text-anchor="start" textLength="59.31" lengthAdjust="spacingAndGlyphs" >DPR</text>
<text x="680.52" y="716.7" font-size="26" text-anchor="start" textLength="58.77" lengthAdjust="spacingAndGlyphs" >DPR</text>
<text x="681.69" y="1279.2" font-size="26" text-anchor="start" textLength="51.95" lengthAdjust="spacingAndGlyphs" >TVZ</text>
<text x="680.72" y="1395.9" font-size="26" text-anchor="start" textLength="57.13" lengthAdjust="spacingAndGlyphs" >HKS</text>
<text x="680.73" y="1478.9" font-size="26" text-anchor="start" textLength="58.42" lengthAdjust="spacingAndGlyphs" >DCS</text>
<text x="681.77" y="1593.7" font-size="26" text-anchor="start" textLength="56.16" lengthAdjust="spacingAndGlyphs" >SCS</text>
<text x="718.29" y="1644.4" font-size="26" text-anchor="start" textLength="63.1" lengthAdjust="spacingAndGlyphs" >WEN</text>
<polyline points="672.4,1314.6 672.9,1315.27 673.4,1315.9 673.9,1316.46 674.4,1316.93 674.9,1317.26 675.4,1317.46 675.9,1317.5 676.4,1317.38 676.9,1317.11 677.4,1316.71 677.9,1316.19 678.4,1315.59 678.9,1314.94 679.4,1314.26 679.9,1313.61 680.4,1313.01 680.9,1312.49 681.4,1312.09 681.9,1311.82 682.4,1311.7 682.9,1311.74 683.4,1311.94 683.9,1312.27 684.4,1312.74 684.9,1313.3 685.4,1313.93 685.9,1314.6 686.4,1315.27 686.9,1315.9 687.4,1316.46 687.9,1316.93 688.4,1317.26 688.9,1317.46 689.4,1317.5 689.9,1317.38 690.4,1317.11 690.9,1316.71 691.4,1316.19 691.9,1315.59 692.4,1314.94 692.9,1314.26 693.4,1313.61 693.9,1313.01 694.4,1312.49 694.9,1312.09 695.4,1311.82 695.9,1311.7 696.4,1311.74 696.9,1311.94 697.4,1312.27 697.9,1312.74 698.4,1313.3 698.9,1313.93 699.4,1314.6 699.9,1315.27 700.4,1315.9 700.9,1316.46 701.4,1316.93 701.9,1317.26 702.4,1317.46 702.9,1317.5 703.4,1317.38 703.9,1317.11 704.4,1316.71 704.9,1316.19 705.4,1315.59 705.9,1314.94 706.4,1314.26 706.9,1313.61 707.4,1313.01 707.9,1312.49 708.4,1312.09 708.9,1311.82 709.4,1311.7 709.9,1311.74 710.4,1311.94 710.9,1312.27 711.4,1312.74 711.9,1313.3 712.4,1313.93 712.9,1314.6 713.4,1315.27 713.9,1315.9 714.4,1316.46 714.9,1316.93 715.4,1317.26 715.9,1317.46 716.4,1317.5 716.9,1317.38 717.4,1317.11 717.9,1316.71 718.4,1316.19 718.9,1315.59 719.4,1314.94 719.9,1314.26 720.4,1313.61 720.9,1313.01 721.4,1312.49 721.9,1312.09 722.4,1311.82 722.9,1311.7 723.4,1311.74 723.9,1311.94 724.4,1312.27 724.9,1312.74 725.4,1313.3 725.9,1313.93 726.4,1314.6 726.9,1315.27 727.4,1315.9 727.9,1316.46 728.4,1316.93 728.9,1317.26 729.4,1317.46 729.9,1317.5 730.4,1317.38 730.9,1317.11 731.4,1316.71 731.9,1316.19 732.4,1315.59 732.9,1314.94 733.4,1314.26 733.9,1313.61 734.4,1313.01 734.9,1312.49 735.4,1312.09 735.9,1311.82 736.4,1311.7 736.9,1311.74 737.4,1311.94 737.9,1312.27 738.4,1312.74 738.9,1313.3 739.4,1313.93 739.9,1314.6 740.4,1315.27 740.9,1315.9 741.4,1316.46 741.9,1316.93 742.4,1317.26 742.9,1317.46 743.4,1317.5 743.9,1317.38 744.4,1317.11 744.9,1316.71 745.4,1316.19 745.9,1315.59 746.4,1314.94 746.9,1314.26 747.4,1313.61 747.9,1313.01 748.4,1312.49 748.9,1312.09 749.4,1311.82 749.9,1311.7 750.4,1311.74 750.9,1311.94 751.4,1312.27 751.9,1312.74 752.4,1313.3 752.9,1313.93 753.4,1314.6 753.9,1315.27 754.4,1315.9 754.9,1316.46 755.4,1316.93 755.9,1317.26 756.4,1317.46 756.9,1317.5 757.4,1317.38 757.9,1317.11 758.4,1316.71 758.9,1316.19 759.4,1315.59 759.9,1314.94 760.4,1314.26 760.9,1313.61 761.4,1313.01 761.9,1312.49 762.4,1312.09 762.9,1311.82 763.4,1311.7 763.9,1311.74 764.4,1311.94 764.9,1312.27 765.4,1312.74 765.9,1313.3 766.4,1313.93 766.9,1314.6 767.4,1315.27 767.9,1315.9 768.4,1316.46 768.9,1316.93 769.4,1317.26 769.9,1317.46 770.4,1317.5 770.9,1317.38 771.4,1317.11 771.9,1316.71 772.4,1316.19 772.9,1315.59 773.4,1314.94 773.9,1314.26 774.4,1313.61 774.9,1313.01 775.4,1312.49 775.9,1312.09 776.4,1311.82 776.9,1311.7 777.4,1311.74 777.9,1311.94 778.4,1312.27 778.9,1312.74 779.4,1313.3 779.9,1313.93 780.4,1314.6 780.9,1315.27 781.4,1315.9 781.9,1316.46 782.4,1316.93 782.9,1317.26 783.4,1317.46 783.9,1317.5 784.4,1317.38 784.9,1317.11 785.4,1316.71 785.9,1316.19 786.4,1315.59 786.9,1314.94 787.4,1314.26 787.9,1313.61 788.4,1313.01 788.9,1312.49 789.4,1312.09 789.9,1311.82 790.4,1311.7 790.9,1311.74 791.4,1311.94 791.9,1312.27 792.4,1312.74 792.9,1313.3 793.4,1313.93 793.9,1314.6 794.4,1315.27 794.9,1315.9 795.4,1316.46 795.9,1316.93 796.4,1317.26 796.9,1317.46 797.4,1317.5 797.9,1317.38 798.4,1317.11 798.9,1316.71 799.4,1316.19 799.9,1315.59 800.4,1314.94 800.9,1314.26 801.4,1313.61 801.9,1313.01 802.4,1312.49 802.9,1312.09 803.4,1311.82 803.9,1311.7 804.4,1311.74 804.9,1311.94 805.4,1312.27 805.9,1312.74 806.4,1313.3 806.9,1313.93 807.4,1314.6 807.9,1315.27 808.4,1315.9 808.9,1316.46 809.4,1316.93 809.9,1317.26 810.4,1317.46 810.9,1317.5 811.4,1317.38 811.9,1317.11 812.4,1316.71 812.9,1316.19 813.4,1315.59 813.9,1314.94 814.4,1314.26 814.9,1313.61 815.4,1313.01 815.9,1312.49 816.4,1312.09 816.9,1311.82 817.4,1311.7 817.9,1311.74 818.4,1311.94 818.9,1312.27 819.4,1312.74 819.9,1313.3 820.4,1313.93 820.9,1314.6 821.4,1315.27 821.9,1315.9 822.4,1316.46 822.9,1316.93 823.4,1317.26 823.9,1317.46 824.4,1317.5 824.9,1317.38 825.4,1317.11 825.9,1316.71 826.4,1316.19 826.9,1315.59 827.4,1314.94 827.9,1314.26 828.4,1313.61 828.9,1313.01 829.4,1312.49 829.9,1312.09 830.4,1311.82 830.9,1311.7 831.4,1311.74 831.9,1311.94 832.4,1312.27 832.9,1312.74 833.4,1313.3 833.9,1313.93 834.4,1314.6 834.9,1315.27 835.4,1315.9 835.9,1316.46 836.4,1316.93 836.9,1317.26 837.4,1317.46 837.9,1317.5 838.4,1317.38 838.9,1317.11 839.4,1316.71 839.9,1316.19 840.4,1315.59 840.9,1314.94 841.4,1314.26 841.9,1313.61 842.4,1313.01 842.9,1312.49 843.4,1312.09 843.9,1311.82 844.4,1311.7 844.9,1311.74 845.4,1311.94 845.9,1312.27 846.4,1312.74 846.9,1313.3 847.4,1313.93 847.9,1314.6 848.4,1315.27 848.9,1315.9 849.4,1316.46 849.9,1316.93 850.4,1317.26 850.9,1317.46 851.4,1317.5 851.9,1317.38 852.4,1317.11 852.9,1316.71 853.4,1316.19 853.9,1315.59 854.4,1314.94 854.9,1314.26 855.4,1313.61 855.9,1313.01 856.4,1312.49 856.9,1312.09 857.4,1311.82 857.9,1311.7 858.4,1311.74 858.9,1311.94 859.4,1312.27 859.9,1312.74 860.4,1313.3 860.9,1313.93 861.4,1314.6 861.9,1315.27 862.4,1315.9 862.9,1316.46 863.4,1316.93 863.9,1317.26 864.4,1317.46 864.9,1317.5 865.4,1317.38 865.9,1317.11 866.4,1316.71 866.9,1316.19 867.4,1315.59 867.9,1314.94 868.4,1314.26" fill="none" stroke="#000" stroke-width="2"/>
<polyline points="667.8,1427.9 668.3,1428.57 668.8,1429.2 669.3,1429.76 669.8,1430.23 670.3,1430.56 670.8,1430.76 671.3,1430.8 671.8,1430.68 672.3,1430.41 672.8,1430.01 673.3,1429.49 673.8,1428.89 674.3,1428.24 674.8,1427.56 675.3,1426.91 675.8,1426.31 676.3,1425.79 676.8,1425.39 677.3,1425.12 677.8,1425 678.3,1425.04 678.8,1425.24 679.3,1425.57 679.8,1426.04 680.3,1426.6 680.8,1427.23 681.3,1427.9 681.8,1428.57 682.3,1429.2 682.8,1429.76 683.3,1430.23 683.8,1430.56 684.3,1430.76 684.8,1430.8 685.3,1430.68 685.8,1430.41 686.3,1430.01 686.8,1429.49 687.3,1428.89 687.8,1428.24 688.3,1427.56 688.8,1426.91 689.3,1426.31 689.8,1425.79 690.3,1425.39 690.8,1425.12 691.3,1425 691.8,1425.04 692.3,1425.24 692.8,1425.57 693.3,1426.04 693.8,1426.6 694.3,1427.23 694.8,1427.9 695.3,1428.57 695.8,1429.2 696.3,1429.76 696.8,1430.23 697.3,1430.56 697.8,1430.76 698.3,1430.8 698.8,1430.68 699.3,1430.41 699.8,1430.01 700.3,1429.49 700.8,1428.89 701.3,1428.24 701.8,1427.56 702.3,1426.91 702.8,1426.31 703.3,1425.79 703.8,1425.39 704.3,1425.12 704.8,1425 705.3,1425.04 705.8,1425.24 706.3,1425.57 706.8,1426.04 707.3,1426.6 707.8,1427.23 708.3,1427.9 708.8,1428.57 709.3,1429.2 709.8,1429.76 710.3,1430.23 710.8,1430.56 711.3,1430.76 711.8,1430.8 712.3,1430.68 712.8,1430.41 713.3,1430.01 713.8,1429.49 714.3,1428.89 714.8,1428.24 715.3,1427.56 715.8,1426.91 716.3,1426.31 716.8,1425.79 717.3,1425.39 717.8,1425.12 718.3,1425 718.8,1425.04 719.3,1425.24 719.8,1425.57 720.3,1426.04 720.8,1426.6 721.3,1427.23 721.8,1427.9 722.3,1428.57 722.8,1429.2 723.3,1429.76 723.8,1430.23 724.3,1430.56 724.8,1430.76 725.3,1430.8 725.8,1430.68 726.3,1430.41 726.8,1430.01 727.3,1429.49 727.8,1428.89 728.3,1428.24 728.8,1427.56 729.3,1426.91 729.8,1426.31 730.3,1425.79 730.8,1425.39 731.3,1425.12 731.8,1425 732.3,1425.04 732.8,1425.24 733.3,1425.57 733.8,1426.04 734.3,1426.6 734.8,1427.23 735.3,1427.9 735.8,1428.57 736.3,1429.2 736.8,1429.76 737.3,1430.23 737.8,1430.56 738.3,1430.76 738.8,1430.8 739.3,1430.68 739.8,1430.41 740.3,1430.01 740.8,1429.49 741.3,1428.89 741.8,1428.24 742.3,1427.56 742.8,1426.91 743.3,1426.31 743.8,1425.79 744.3,1425.39 744.8,1425.12 745.3,1425 745.8,1425.04 746.3,1425.24 746.8,1425.57 747.3,1426.04 747.8,1426.6 748.3,1427.23 748.8,1427.9 749.3,1428.57 749.8,1429.2 750.3,1429.76 750.8,1430.23 751.3,1430.56 751.8,1430.76 752.3,1430.8 752.8,1430.68 753.3,1430.41 753.8,1430.01 754.3,1429.49 754.8,1428.89 755.3,1428.24 755.8,1427.56 756.3,1426.91 756.8,1426.31 757.3,1425.79 757.8,1425.39 758.3,1425.12 758.8,1425 759.3,1425.04 759.8,1425.24 760.3,1425.57 760.8,1426.04 761.3,1426.6 761.8,1427.23 762.3,1427.9 762.8,1428.57 763.3,1429.2 763.8,1429.76 764.3,1430.23 764.8,1430.56 765.3,1430.76 765.8,1430.8 766.3,1430.68 766.8,1430.41 767.3,1430.01 767.8,1429.49 768.3,1428.89 768.8,1428.24 769.3,1427.56 769.8,1426.91 770.3,1426.31 770.8,1425.79 771.3,1425.39 771.8,1425.12 772.3,1425 772.8,1425.04 773.3,1425.24 773.8,1425.57 774.3,1426.04 774.8,1426.6 775.3,1427.23 775.8,1427.9 776.3,1428.57 776.8,1429.2 777.3,1429.76 777.8,1430.23 778.3,1430.56 778.8,1430.76 779.3,1430.8 779.8,1430.68 780.3,1430.41 780.8,1430.01 781.3,1429.49 781.8,1428.89 782.3,1428.24 782.8,1427.56 783.3,1426.91 783.8,1426.31 784.3,1425.79 784.8,1425.39 785.3,1425.12 785.8,1425 786.3,1425.04 786.8,1425.24 787.3,1425.57 787.8,1426.04 788.3,1426.6 788.8,1427.23 789.3,1427.9 789.8,1428.57 790.3,1429.2 790.8,1429.76 791.3,1430.23 791.8,1430.56 792.3,1430.76 792.8,1430.8 793.3,1430.68 793.8,1430.41 794.3,1430.01 794.8,1429.49 795.3,1428.89 795.8,1428.24 796.3,1427.56 796.8,1426.91 797.3,1426.31 797.8,1425.79 798.3,1425.39 798.8,1425.12 799.3,1425 799.8,1425.04 800.3,1425.24 800.8,1425.57 801.3,1426.04 801.8,1426.6 802.3,1427.23 802.8,1427.9 803.3,1428.57 803.8,1429.2 804.3,1429.76 804.8,1430.23 805.3,1430.56 805.8,1430.76 806.3,1430.8 806.8,1430.68 807.3,1430.41 807.8,1430.01 808.3,1429.49 808.8,1428.89 809.3,1428.24 809.8,1427.56 810.3,1426.91 810.8,1426.31 811.3,1425.79 811.8,1425.39 812.3,1425.12 812.8,1425 813.3,1425.04 813.8,1425.24 814.3,1425.57 814.8,1426.04 815.3,1426.6 815.8,1427.23 816.3,1427.9 816.8,1428.57 817.3,1429.2 817.8,1429.76 818.3,1430.23 818.8,1430.56 819.3,1430.76 819.8,1430.8 820.3,1430.68 820.8,1430.41 821.3,1430.01 821.8,1429.49 822.3,1428.89 822.8,1428.24 823.3,1427.56 823.8,1426.91 824.3,1426.31 824.8,1425.79 825.3,1425.39 825.8,1425.12 826.3,1425 826.8,1425.04 827.3,1425.24 827.8,1425.57 828.3,1426.04 828.8,1426.6 829.3,1427.23 829.8,1427.9 830.3,1428.57 830.8,1429.2 831.3,1429.76 831.8,1430.23 832.3,1430.56 832.8,1430.76 833.3,1430.8 833.8,1430.68 834.3,1430.41 834.8,1430.01 835.3,1429.49 835.8,1428.89 836.3,1428.24 836.8,1427.56 837.3,1426.91 837.8,1426.31 838.3,1425.79 838.8,1425.39 839.3,1425.12 839.8,1425 840.3,1425.04 840.8,1425.24 841.3,1425.57 841.8,1426.04 842.3,1426.6 842.8,1427.23 843.3,1427.9 843.8,1428.57 844.3,1429.2 844.8,1429.76 845.3,1430.23 845.8,1430.56 846.3,1430.76 846.8,1430.8 847.3,1430.68 847.8,1430.41 848.3,1430.01 848.8,1429.49 849.3,1428.89 849.8,1428.24 850.3,1427.56 850.8,1426.91 851.3,1426.31 851.8,1425.79 852.3,1425.39 852.8,1425.12 853.3,1425 853.8,1425.04 854.3,1425.24 854.8,1425.57 855.3,1426.04 855.8,1426.6 856.3,1427.23 856.8,1427.9 857.3,1428.57 857.8,1429.2 858.3,1429.76 858.8,1430.23 859.3,1430.56 859.8,1430.76 860.3,1430.8 860.8,1430.68 861.3,1430.41 861.8,1430.01 862.3,1429.49 862.8,1428.89 863.3,1428.24 863.8,1427.56 864.3,1426.91 864.8,1426.31 865.3,1425.79 865.8,1425.39 866.3,1425.12 866.8,1425 867.3,1425.04 867.8,1425.24 868.3,1425.57 868.8,1426.04 869.3,1426.6" fill="none" stroke="#000" stroke-width="2"/>
<path d="M667.8,1213.5 L733.6,1213.5 L713.5,1206.6 L807.9,1206.6 L793.8,1212 L869.5,1212" fill="none" stroke="#000" stroke-width="1.8" stroke-linejoin="miter" />
<path d="M668.6,1487.3 L711.4,1505.4 L689.6,1514.3 L742.6,1553.7 L802.1,1553.7 L784.6,1588.3 L821.3,1614" fill="none" stroke="#000" stroke-width="1.8" stroke-linejoin="miter" />
<polygon points="682.5,1647.9 685.35,1656.68 694.58,1656.68 687.11,1662.1 689.96,1670.87 682.5,1665.45 675.04,1670.87 677.89,1662.1 670.42,1656.68 679.65,1656.68" fill="#1a7ff2"/>
<text x="699.26" y="1670.1" font-size="18.7" text-anchor="start" textLength="136.35" lengthAdjust="spacingAndGlyphs" >237.773 ± 0.053</text>
<text x="898.45" y="196.2" font-size="26" text-anchor="start" textLength="57.57" lengthAdjust="spacingAndGlyphs" >ARN</text>
<text x="1024.8" y="169.2" font-size="26" text-anchor="start" textLength="58.02" lengthAdjust="spacingAndGlyphs" >TRO</text>
<text x="898.05" y="422" font-size="26" text-anchor="start" textLength="57.99" lengthAdjust="spacingAndGlyphs" >ARN</text>
<text x="999.36" y="465.8" font-size="26" text-anchor="start" textLength="62.11" lengthAdjust="spacingAndGlyphs" >LÖW</text>
<text x="886.85" y="896.9" font-size="26" text-anchor="start" textLength="57.68" lengthAdjust="spacingAndGlyphs" >ARN</text>
<text x="1023.91" y="1195.1" font-size="26" text-anchor="start" textLength="57.35" lengthAdjust="spacingAndGlyphs" >HAS</text>
<text x="889.09" y="1277.7" font-size="26" text-anchor="start" textLength="61.31" lengthAdjust="spacingAndGlyphs" >WES</text>
<text x="889.55" y="1377.7" font-size="26" text-anchor="start" textLength="55.67" lengthAdjust="spacingAndGlyphs" >STU</text>
<text x="889.42" y="1566.9" font-size="26" text-anchor="start" textLength="59.84" lengthAdjust="spacingAndGlyphs" >GRA</text>
<text x="1008.52" y="1566.9" font-size="26" text-anchor="start" textLength="75.59" lengthAdjust="spacingAndGlyphs" >BENK</text>
<line x1="874.7" y1="211.4" x2="1091.3" y2="211.4" stroke="#000" stroke-width="1.8"/>
<path d="M970.1,211.4 L970.1,188.4 L966.7,194.9 L966.7,163.6 L969,168.5 L984.8,142.2" fill="none" stroke="#000" stroke-width="1.8" stroke-linejoin="miter" />
<path d="M1004,307.3 L968.7,387.1 L964.7,372.2 L964.7,463.4 L971.1,444.9 L971.1,511.5" fill="none" stroke="#000" stroke-width="1.8" stroke-linejoin="miter" />
<path d="M1014.6,1090 L979.2,1152.3 L974.6,1140.8 L974.6,1215.4 L981.5,1196.9 L981.5,1250" fill="none" stroke="#000" stroke-width="1.8" stroke-linejoin="miter" />
<path d="M1014.6,1458.2 L979.2,1545.4 L974.6,1528.5 L974.6,1627.7 L981.5,1606.9 L981.5,1679.2" fill="none" stroke="#000" stroke-width="1.8" stroke-linejoin="miter" />
<text x="880.07" y="243.1" font-size="17.2" text-anchor="start" textLength="187.91" lengthAdjust="spacingAndGlyphs" >K5/K6 Discordance (D5)</text>
<polyline points="874.7,268 875.2,268.63 875.7,269.23 876.2,269.79 876.7,270.29 877.2,270.7 877.7,271.01 878.2,271.21 878.7,271.3 879.2,271.26 879.7,271.11 880.2,270.84 880.7,270.46 881.2,270 881.7,269.46 882.2,268.87 882.7,268.25 883.2,267.62 883.7,267 884.2,266.42 884.7,265.9 885.2,265.45 885.7,265.1 886.2,264.85 886.7,264.72 887.2,264.71 887.7,264.82 888.2,265.04 888.7,265.38 889.2,265.8 889.7,266.31 890.2,266.88 890.7,267.5 891.2,268.13 891.7,268.75 892.2,269.35 892.7,269.9 893.2,270.38 893.7,270.77 894.2,271.06 894.7,271.24 895.2,271.3 895.7,271.24 896.2,271.06 896.7,270.77 897.2,270.38 897.7,269.9 898.2,269.35 898.7,268.75 899.2,268.13 899.7,267.5 900.2,266.88 900.7,266.31 901.2,265.8 901.7,265.38 902.2,265.04 902.7,264.82 903.2,264.71 903.7,264.72 904.2,264.85 904.7,265.1 905.2,265.45 905.7,265.9 906.2,266.42 906.7,267 907.2,267.62 907.7,268.25 908.2,268.87 908.7,269.46 909.2,270 909.7,270.46 910.2,270.84 910.7,271.11 911.2,271.26 911.7,271.3 912.2,271.21 912.7,271.01 913.2,270.7 913.7,270.29 914.2,269.79 914.7,269.23 915.2,268.63 915.7,268 916.2,267.37 916.7,266.77 917.2,266.21 917.7,265.71 918.2,265.3 918.7,264.99 919.2,264.79 919.7,264.7 920.2,264.74 920.7,264.89 921.2,265.16 921.7,265.54 922.2,266 922.7,266.54 923.2,267.13 923.7,267.75 924.2,268.38 924.7,269 925.2,269.58 925.7,270.1 926.2,270.55 926.7,270.9 927.2,271.15 927.7,271.28 928.2,271.29 928.7,271.18 929.2,270.96 929.7,270.62 930.2,270.2 930.7,269.69 931.2,269.12 931.7,268.5 932.2,267.87 932.7,267.25 933.2,266.65 933.7,266.1 934.2,265.62 934.7,265.23 935.2,264.94 935.7,264.76 936.2,264.7 936.7,264.76 937.2,264.94 937.7,265.23 938.2,265.62 938.7,266.1 939.2,266.65 939.7,267.25 940.2,267.87 940.7,268.5 941.2,269.12 941.7,269.69 942.2,270.2 942.7,270.62 943.2,270.96 943.7,271.18 944.2,271.29 944.7,271.28 945.2,271.15 945.7,270.9 946.2,270.55 946.7,270.1 947.2,269.58 947.7,269 948.2,268.38 948.7,267.75 949.2,267.13 949.7,266.54 950.2,266 950.7,265.54 951.2,265.16 951.7,264.89 952.2,264.74 952.7,264.7 953.2,264.79 953.7,264.99 954.2,265.3 954.7,265.71 955.2,266.21 955.7,266.77 956.2,267.37 956.7,268 957.2,268.63 957.7,269.23 958.2,269.79 958.7,270.29 959.2,270.7 959.7,271.01 960.2,271.21 960.7,271.3 961.2,271.26 961.7,271.11 962.2,270.84 962.7,270.46 963.2,270 963.7,269.46 964.2,268.87 964.7,268.25 965.2,267.62 965.7,267 966.2,266.42 966.7,265.9 967.2,265.45 967.7,265.1 968.2,264.85 968.7,264.72 969.2,264.71 969.7,264.82 970.2,265.04 970.7,265.38 971.2,265.8 971.7,266.31 972.2,266.88 972.7,267.5 973.2,268.13 973.7,268.75 974.2,269.35 974.7,269.9 975.2,270.38 975.7,270.77 976.2,271.06 976.7,271.24 977.2,271.3 977.7,271.24 978.2,271.06 978.7,270.77 979.2,270.38 979.7,269.9 980.2,269.35 980.7,268.75 981.2,268.13 981.7,267.5 982.2,266.88 982.7,266.31 983.2,265.8 983.7,265.38 984.2,265.04 984.7,264.82 985.2,264.71 985.7,264.72 986.2,264.85 986.7,265.1 987.2,265.45 987.7,265.9 988.2,266.42 988.7,267 989.2,267.62 989.7,268.25 990.2,268.87 990.7,269.46 991.2,270 991.7,270.46 992.2,270.84 992.7,271.11 993.2,271.26 993.7,271.3 994.2,271.21 994.7,271.01 995.2,270.7 995.7,270.29 996.2,269.79 996.7,269.23 997.2,268.63 997.7,268 998.2,267.37 998.7,266.77 999.2,266.21 999.7,265.71 1000.2,265.3 1000.7,264.99 1001.2,264.79 1001.7,264.7 1002.2,264.74 1002.7,264.89 1003.2,265.16 1003.7,265.54 1004.2,266 1004.7,266.54 1005.2,267.13 1005.7,267.75 1006.2,268.38 1006.7,269 1007.2,269.58 1007.7,270.1 1008.2,270.55 1008.7,270.9 1009.2,271.15 1009.7,271.28 1010.2,271.29 1010.7,271.18 1011.2,270.96 1011.7,270.62 1012.2,270.2 1012.7,269.69 1013.2,269.12 1013.7,268.5 1014.2,267.87 1014.7,267.25 1015.2,266.65 1015.7,266.1 1016.2,265.62 1016.7,265.23 1017.2,264.94 1017.7,264.76 1018.2,264.7 1018.7,264.76 1019.2,264.94 1019.7,265.23 1020.2,265.62 1020.7,266.1 1021.2,266.65 1021.7,267.25 1022.2,267.87 1022.7,268.5 1023.2,269.12 1023.7,269.69 1024.2,270.2 1024.7,270.62 1025.2,270.96 1025.7,271.18 1026.2,271.29 1026.7,271.28 1027.2,271.15 1027.7,270.9 1028.2,270.55 1028.7,270.1 1029.2,269.58 1029.7,269 1030.2,268.38 1030.7,267.75 1031.2,267.13 1031.7,266.54 1032.2,266 1032.7,265.54 1033.2,265.16 1033.7,264.89 1034.2,264.74 1034.7,264.7 1035.2,264.79 1035.7,264.99 1036.2,265.3 1036.7,265.71 1037.2,266.21 1037.7,266.77 1038.2,267.37 1038.7,268 1039.2,268.63 1039.7,269.23 1040.2,269.79 1040.7,270.29 1041.2,270.7 1041.7,271.01 1042.2,271.21 1042.7,271.3 1043.2,271.26 1043.7,271.11 1044.2,270.84 1044.7,270.46 1045.2,270 1045.7,269.46 1046.2,268.87 1046.7,268.25 1047.2,267.62 1047.7,267 1048.2,266.42 1048.7,265.9 1049.2,265.45 1049.7,265.1 1050.2,264.85 1050.7,264.72 1051.2,264.71 1051.7,264.82 1052.2,265.04 1052.7,265.38 1053.2,265.8 1053.7,266.31 1054.2,266.88 1054.7,267.5 1055.2,268.13 1055.7,268.75 1056.2,269.35 1056.7,269.9 1057.2,270.38 1057.7,270.77 1058.2,271.06 1058.7,271.24 1059.2,271.3 1059.7,271.24 1060.2,271.06 1060.7,270.77 1061.2,270.38 1061.7,269.9 1062.2,269.35 1062.7,268.75 1063.2,268.13 1063.7,267.5 1064.2,266.88 1064.7,266.31 1065.2,265.8 1065.7,265.38 1066.2,265.04 1066.7,264.82 1067.2,264.71 1067.7,264.72 1068.2,264.85 1068.7,265.1 1069.2,265.45 1069.7,265.9 1070.2,266.42 1070.7,267 1071.2,267.62 1071.7,268.25 1072.2,268.87 1072.7,269.46 1073.2,270 1073.7,270.46 1074.2,270.84 1074.7,271.11 1075.2,271.26 1075.7,271.3 1076.2,271.21 1076.7,271.01 1077.2,270.7 1077.7,270.29 1078.2,269.79 1078.7,269.23 1079.2,268.63 1079.7,268 1080.2,267.37 1080.7,266.77 1081.2,266.21 1081.7,265.71 1082.2,265.3 1082.7,264.99 1083.2,264.79 1083.7,264.7 1084.2,264.74 1084.7,264.89 1085.2,265.16 1085.7,265.54 1086.2,266 1086.7,266.54 1087.2,267.13 1087.7,267.75 1088.2,268.38 1088.7,269 1089.2,269.58 1089.7,270.1 1090.2,270.55 1090.7,270.9 1091.2,271.15" fill="none" stroke="#000" stroke-width="2"/>
<line x1="874.7" y1="1037.7" x2="1091.3" y2="1037.7" stroke="#000" stroke-width="1.6"/>
<text x="882.83" y="1070" font-size="16.5" text-anchor="start" textLength="180.52" lengthAdjust="spacingAndGlyphs" >K4/K5 Discordance (D4)</text>
<polyline points="874.7,1094 875.2,1094.57 875.7,1095.12 876.2,1095.63 876.7,1096.08 877.2,1096.45 877.7,1096.74 878.2,1096.92 878.7,1097 879.2,1096.96 879.7,1096.82 880.2,1096.58 880.7,1096.24 881.2,1095.82 881.7,1095.33 882.2,1094.79 882.7,1094.23 883.2,1093.66 883.7,1093.09 884.2,1092.57 884.7,1092.09 885.2,1091.69 885.7,1091.36 886.2,1091.14 886.7,1091.02 887.2,1091.01 887.7,1091.11 888.2,1091.31 888.7,1091.61 889.2,1092 889.7,1092.47 890.2,1092.99 890.7,1093.54 891.2,1094.11 891.7,1094.68 892.2,1095.23 892.7,1095.73 893.2,1096.16 893.7,1096.52 894.2,1096.78 894.7,1096.95 895.2,1097 895.7,1096.95 896.2,1096.78 896.7,1096.52 897.2,1096.16 897.7,1095.73 898.2,1095.23 898.7,1094.68 899.2,1094.11 899.7,1093.54 900.2,1092.99 900.7,1092.47 901.2,1092 901.7,1091.61 902.2,1091.31 902.7,1091.11 903.2,1091.01 903.7,1091.02 904.2,1091.14 904.7,1091.36 905.2,1091.69 905.7,1092.09 906.2,1092.57 906.7,1093.09 907.2,1093.66 907.7,1094.23 908.2,1094.79 908.7,1095.33 909.2,1095.82 909.7,1096.24 910.2,1096.58 910.7,1096.82 911.2,1096.96 911.7,1097 912.2,1096.92 912.7,1096.74 913.2,1096.45 913.7,1096.08 914.2,1095.63 914.7,1095.12 915.2,1094.57 915.7,1094 916.2,1093.43 916.7,1092.88 917.2,1092.37 917.7,1091.92 918.2,1091.55 918.7,1091.26 919.2,1091.08 919.7,1091 920.2,1091.04 920.7,1091.18 921.2,1091.42 921.7,1091.76 922.2,1092.18 922.7,1092.67 923.2,1093.21 923.7,1093.77 924.2,1094.34 924.7,1094.91 925.2,1095.43 925.7,1095.91 926.2,1096.31 926.7,1096.64 927.2,1096.86 927.7,1096.98 928.2,1096.99 928.7,1096.89 929.2,1096.69 929.7,1096.39 930.2,1096 930.7,1095.53 931.2,1095.01 931.7,1094.46 932.2,1093.89 932.7,1093.32 933.2,1092.77 933.7,1092.27 934.2,1091.84 934.7,1091.48 935.2,1091.22 935.7,1091.05 936.2,1091 936.7,1091.05 937.2,1091.22 937.7,1091.48 938.2,1091.84 938.7,1092.27 939.2,1092.77 939.7,1093.32 940.2,1093.89 940.7,1094.46 941.2,1095.01 941.7,1095.53 942.2,1096 942.7,1096.39 943.2,1096.69 943.7,1096.89 944.2,1096.99 944.7,1096.98 945.2,1096.86 945.7,1096.64 946.2,1096.31 946.7,1095.91 947.2,1095.43 947.7,1094.91 948.2,1094.34 948.7,1093.77 949.2,1093.21 949.7,1092.67 950.2,1092.18 950.7,1091.76 951.2,1091.42 951.7,1091.18 952.2,1091.04 952.7,1091 953.2,1091.08 953.7,1091.26 954.2,1091.55 954.7,1091.92 955.2,1092.37 955.7,1092.88 956.2,1093.43 956.7,1094 957.2,1094.57 957.7,1095.12 958.2,1095.63 958.7,1096.08 959.2,1096.45 959.7,1096.74 960.2,1096.92 960.7,1097 961.2,1096.96 961.7,1096.82 962.2,1096.58 962.7,1096.24 963.2,1095.82 963.7,1095.33 964.2,1094.79 964.7,1094.23 965.2,1093.66 965.7,1093.09 966.2,1092.57 966.7,1092.09 967.2,1091.69 967.7,1091.36 968.2,1091.14 968.7,1091.02 969.2,1091.01 969.7,1091.11 970.2,1091.31 970.7,1091.61 971.2,1092 971.7,1092.47 972.2,1092.99 972.7,1093.54 973.2,1094.11 973.7,1094.68 974.2,1095.23 974.7,1095.73 975.2,1096.16 975.7,1096.52 976.2,1096.78 976.7,1096.95 977.2,1097 977.7,1096.95 978.2,1096.78 978.7,1096.52 979.2,1096.16 979.7,1095.73 980.2,1095.23 980.7,1094.68 981.2,1094.11 981.7,1093.54 982.2,1092.99 982.7,1092.47 983.2,1092 983.7,1091.61 984.2,1091.31 984.7,1091.11 985.2,1091.01 985.7,1091.02 986.2,1091.14 986.7,1091.36 987.2,1091.69 987.7,1092.09 988.2,1092.57 988.7,1093.09 989.2,1093.66 989.7,1094.23 990.2,1094.79 990.7,1095.33 991.2,1095.82 991.7,1096.24 992.2,1096.58 992.7,1096.82 993.2,1096.96 993.7,1097 994.2,1096.92 994.7,1096.74 995.2,1096.45 995.7,1096.08 996.2,1095.63 996.7,1095.12 997.2,1094.57 997.7,1094 998.2,1093.43 998.7,1092.88 999.2,1092.37 999.7,1091.92 1000.2,1091.55 1000.7,1091.26 1001.2,1091.08 1001.7,1091 1002.2,1091.04 1002.7,1091.18 1003.2,1091.42 1003.7,1091.76 1004.2,1092.18 1004.7,1092.67 1005.2,1093.21 1005.7,1093.77 1006.2,1094.34 1006.7,1094.91 1007.2,1095.43 1007.7,1095.91 1008.2,1096.31 1008.7,1096.64 1009.2,1096.86 1009.7,1096.98 1010.2,1096.99 1010.7,1096.89 1011.2,1096.69 1011.7,1096.39 1012.2,1096 1012.7,1095.53 1013.2,1095.01 1013.7,1094.46 1014.2,1093.89 1014.7,1093.32 1015.2,1092.77 1015.7,1092.27 1016.2,1091.84 1016.7,1091.48 1017.2,1091.22 1017.7,1091.05 1018.2,1091 1018.7,1091.05 1019.2,1091.22 1019.7,1091.48 1020.2,1091.84 1020.7,1092.27 1021.2,1092.77 1021.7,1093.32 1022.2,1093.89 1022.7,1094.46 1023.2,1095.01 1023.7,1095.53 1024.2,1096 1024.7,1096.39 1025.2,1096.69 1025.7,1096.89 1026.2,1096.99 1026.7,1096.98 1027.2,1096.86 1027.7,1096.64 1028.2,1096.31 1028.7,1095.91 1029.2,1095.43 1029.7,1094.91 1030.2,1094.34 1030.7,1093.77 1031.2,1093.21 1031.7,1092.67 1032.2,1092.18 1032.7,1091.76 1033.2,1091.42 1033.7,1091.18 1034.2,1091.04 1034.7,1091 1035.2,1091.08 1035.7,1091.26 1036.2,1091.55 1036.7,1091.92 1037.2,1092.37 1037.7,1092.88 1038.2,1093.43 1038.7,1094 1039.2,1094.57 1039.7,1095.12 1040.2,1095.63 1040.7,1096.08 1041.2,1096.45 1041.7,1096.74 1042.2,1096.92 1042.7,1097 1043.2,1096.96 1043.7,1096.82 1044.2,1096.58 1044.7,1096.24 1045.2,1095.82 1045.7,1095.33 1046.2,1094.79 1046.7,1094.23 1047.2,1093.66 1047.7,1093.09 1048.2,1092.57 1048.7,1092.09 1049.2,1091.69 1049.7,1091.36 1050.2,1091.14 1050.7,1091.02 1051.2,1091.01 1051.7,1091.11 1052.2,1091.31 1052.7,1091.61 1053.2,1092 1053.7,1092.47 1054.2,1092.99 1054.7,1093.54 1055.2,1094.11 1055.7,1094.68 1056.2,1095.23 1056.7,1095.73 1057.2,1096.16 1057.7,1096.52 1058.2,1096.78 1058.7,1096.95 1059.2,1097 1059.7,1096.95 1060.2,1096.78 1060.7,1096.52 1061.2,1096.16 1061.7,1095.73 1062.2,1095.23 1062.7,1094.68 1063.2,1094.11 1063.7,1093.54 1064.2,1092.99 1064.7,1092.47 1065.2,1092 1065.7,1091.61 1066.2,1091.31 1066.7,1091.11 1067.2,1091.01 1067.7,1091.02 1068.2,1091.14 1068.7,1091.36 1069.2,1091.69 1069.7,1092.09 1070.2,1092.57 1070.7,1093.09 1071.2,1093.66 1071.7,1094.23 1072.2,1094.79 1072.7,1095.33 1073.2,1095.82 1073.7,1096.24 1074.2,1096.58 1074.7,1096.82 1075.2,1096.96 1075.7,1097 1076.2,1096.92 1076.7,1096.74 1077.2,1096.45 1077.7,1096.08 1078.2,1095.63 1078.7,1095.12 1079.2,1094.57 1079.7,1094 1080.2,1093.43 1080.7,1092.88 1081.2,1092.37 1081.7,1091.92 1082.2,1091.55 1082.7,1091.26 1083.2,1091.08 1083.7,1091 1084.2,1091.04 1084.7,1091.18 1085.2,1091.42 1085.7,1091.76 1086.2,1092.18 1086.7,1092.67 1087.2,1093.21 1087.7,1093.77 1088.2,1094.34 1088.7,1094.91 1089.2,1095.43 1089.7,1095.91 1090.2,1096.31 1090.7,1096.64 1091.2,1096.86" fill="none" stroke="#000" stroke-width="2"/>
<text x="883.56" y="1139.2" font-size="16" text-anchor="start" textLength="46.69" lengthAdjust="spacingAndGlyphs" >(D3.2)</text>
<polyline points="878.5,1148.5 879,1150.06 879.5,1151.24 880,1151.78 880.5,1151.55 881,1150.59 881.5,1149.14 882,1147.54 882.5,1146.17 883,1145.34 883.5,1145.26 884,1145.95 884.5,1147.24 885,1148.82 885.5,1150.33 886,1151.41 886.5,1151.8 887,1151.41 887.5,1150.33 888,1148.82 888.5,1147.24 889,1145.95 889.5,1145.26 890,1145.34 890.5,1146.17 891,1147.54 891.5,1149.14 892,1150.59 892.5,1151.55 893,1151.78 893.5,1151.24 894,1150.06 894.5,1148.5 895,1146.94 895.5,1145.76 896,1145.22 896.5,1145.45 897,1146.41 897.5,1147.86 898,1149.46 898.5,1150.83 899,1151.66 899.5,1151.74 900,1151.05 900.5,1149.76 901,1148.18 901.5,1146.67 902,1145.59 902.5,1145.2 903,1145.59 903.5,1146.67 904,1148.18 904.5,1149.76 905,1151.05 905.5,1151.74 906,1151.66 906.5,1150.83 907,1149.46 907.5,1147.86 908,1146.41 908.5,1145.45 909,1145.22 909.5,1145.76 910,1146.94 910.5,1148.5 911,1150.06 911.5,1151.24 912,1151.78 912.5,1151.55 913,1150.59 913.5,1149.14 914,1147.54 914.5,1146.17 915,1145.34 915.5,1145.26 916,1145.95 916.5,1147.24 917,1148.82 917.5,1150.33 918,1151.41 918.5,1151.8 919,1151.41 919.5,1150.33 920,1148.82 920.5,1147.24 921,1145.95 921.5,1145.26 922,1145.34 922.5,1146.17 923,1147.54 923.5,1149.14 924,1150.59 924.5,1151.55 925,1151.78 925.5,1151.24 926,1150.06 926.5,1148.5 927,1146.94 927.5,1145.76 928,1145.22 928.5,1145.45 929,1146.41 929.5,1147.86 930,1149.46 930.5,1150.83 931,1151.66 931.5,1151.74 932,1151.05 932.5,1149.76 933,1148.18 933.5,1146.67 934,1145.59 934.5,1145.2 935,1145.59 935.5,1146.67 936,1148.18 936.5,1149.76 937,1151.05 937.5,1151.74 938,1151.66 938.5,1150.83 939,1149.46 939.5,1147.86 940,1146.41 940.5,1145.45 941,1145.22 941.5,1145.76 942,1146.94 942.5,1148.5 943,1150.06 943.5,1151.24 944,1151.78 944.5,1151.55 945,1150.59 945.5,1149.14 946,1147.54 946.5,1146.17 947,1145.34 947.5,1145.26 948,1145.95 948.5,1147.24 949,1148.82 949.5,1150.33 950,1151.41 950.5,1151.8 951,1151.41 951.5,1150.33 952,1148.82 952.5,1147.24 953,1145.95 953.5,1145.26 954,1145.34 954.5,1146.17 955,1147.54 955.5,1149.14 956,1150.59 956.5,1151.55 957,1151.78 957.5,1151.24 958,1150.06 958.5,1148.5 959,1146.94 959.5,1145.76 960,1145.22 960.5,1145.45 961,1146.41 961.5,1147.86 962,1149.46 962.5,1150.83 963,1151.66 963.5,1151.74 964,1151.05 964.5,1149.76 965,1148.18 965.5,1146.67 966,1145.59 966.5,1145.2 967,1145.59 967.5,1146.67 968,1148.18 968.5,1149.76 969,1151.05 969.5,1151.74 970,1151.66 970.5,1150.83 971,1149.46 971.5,1147.86 972,1146.41 972.5,1145.45 973,1145.22 973.5,1145.76 974,1146.94 974.5,1148.5" fill="none" stroke="#000" stroke-width="1.6"/>
<text x="883.56" y="1225.4" font-size="16" text-anchor="start" textLength="46.69" lengthAdjust="spacingAndGlyphs" >(D3.1)</text>
<polyline points="874.7,1237.7 875.2,1239.26 875.7,1240.44 876.2,1240.98 876.7,1240.75 877.2,1239.79 877.7,1238.34 878.2,1236.74 878.7,1235.37 879.2,1234.54 879.7,1234.46 880.2,1235.15 880.7,1236.44 881.2,1238.02 881.7,1239.53 882.2,1240.61 882.7,1241 883.2,1240.61 883.7,1239.53 884.2,1238.02 884.7,1236.44 885.2,1235.15 885.7,1234.46 886.2,1234.54 886.7,1235.37 887.2,1236.74 887.7,1238.34 888.2,1239.79 888.7,1240.75 889.2,1240.98 889.7,1240.44 890.2,1239.26 890.7,1237.7 891.2,1236.14 891.7,1234.96 892.2,1234.42 892.7,1234.65 893.2,1235.61 893.7,1237.06 894.2,1238.66 894.7,1240.03 895.2,1240.86 895.7,1240.94 896.2,1240.25 896.7,1238.96 897.2,1237.38 897.7,1235.87 898.2,1234.79 898.7,1234.4 899.2,1234.79 899.7,1235.87 900.2,1237.38 900.7,1238.96 901.2,1240.25 901.7,1240.94 902.2,1240.86 902.7,1240.03 903.2,1238.66 903.7,1237.06 904.2,1235.61 904.7,1234.65 905.2,1234.42 905.7,1234.96 906.2,1236.14 906.7,1237.7 907.2,1239.26 907.7,1240.44 908.2,1240.98 908.7,1240.75 909.2,1239.79 909.7,1238.34 910.2,1236.74 910.7,1235.37 911.2,1234.54 911.7,1234.46 912.2,1235.15 912.7,1236.44 913.2,1238.02 913.7,1239.53 914.2,1240.61 914.7,1241 915.2,1240.61 915.7,1239.53 916.2,1238.02 916.7,1236.44 917.2,1235.15 917.7,1234.46 918.2,1234.54 918.7,1235.37 919.2,1236.74 919.7,1238.34 920.2,1239.79 920.7,1240.75 921.2,1240.98 921.7,1240.44 922.2,1239.26 922.7,1237.7 923.2,1236.14 923.7,1234.96 924.2,1234.42 924.7,1234.65 925.2,1235.61 925.7,1237.06 926.2,1238.66 926.7,1240.03 927.2,1240.86 927.7,1240.94 928.2,1240.25 928.7,1238.96 929.2,1237.38 929.7,1235.87 930.2,1234.79 930.7,1234.4 931.2,1234.79 931.7,1235.87 932.2,1237.38 932.7,1238.96 933.2,1240.25 933.7,1240.94 934.2,1240.86 934.7,1240.03 935.2,1238.66 935.7,1237.06 936.2,1235.61 936.7,1234.65 937.2,1234.42 937.7,1234.96 938.2,1236.14 938.7,1237.7 939.2,1239.26 939.7,1240.44 940.2,1240.98 940.7,1240.75 941.2,1239.79 941.7,1238.34 942.2,1236.74 942.7,1235.37 943.2,1234.54 943.7,1234.46 944.2,1235.15 944.7,1236.44 945.2,1238.02 945.7,1239.53 946.2,1240.61 946.7,1241 947.2,1240.61 947.7,1239.53 948.2,1238.02 948.7,1236.44 949.2,1235.15 949.7,1234.46 950.2,1234.54 950.7,1235.37 951.2,1236.74 951.7,1238.34 952.2,1239.79 952.7,1240.75 953.2,1240.98 953.7,1240.44 954.2,1239.26 954.7,1237.7 955.2,1236.14 955.7,1234.96 956.2,1234.42 956.7,1234.65 957.2,1235.61 957.7,1237.06 958.2,1238.66 958.7,1240.03 959.2,1240.86 959.7,1240.94 960.2,1240.25 960.7,1238.96 961.2,1237.38 961.7,1235.87 962.2,1234.79 962.7,1234.4 963.2,1234.79 963.7,1235.87 964.2,1237.38 964.7,1238.96 965.2,1240.25 965.7,1240.94 966.2,1240.86 966.7,1240.03 967.2,1238.66 967.7,1237.06 968.2,1235.61 968.7,1234.65 969.2,1234.42 969.7,1234.96 970.2,1236.14 970.7,1237.7 971.2,1239.26 971.7,1240.44 972.2,1240.98 972.7,1240.75 973.2,1239.79 973.7,1238.34 974.2,1236.74 974.7,1235.37 975.2,1234.54 975.7,1234.46 976.2,1235.15 976.7,1236.44 977.2,1238.02 977.7,1239.53 978.2,1240.61 978.7,1241 979.2,1240.61" fill="none" stroke="#000" stroke-width="1.6"/>
<line x1="874.7" y1="1313.7" x2="1091.3" y2="1313.7" stroke="#000" stroke-width="1.5"/>
<line x1="874.7" y1="1424.4" x2="1091.3" y2="1424.4" stroke="#000" stroke-width="2"/>
<text x="879.96" y="1442.3" font-size="18.5" text-anchor="start" textLength="202.71" lengthAdjust="spacingAndGlyphs" >K2/K3 Discordance (D2)</text>
<polyline points="874.7,1453.9 875.2,1454.47 875.7,1455.02 876.2,1455.53 876.7,1455.98 877.2,1456.35 877.7,1456.64 878.2,1456.82 878.7,1456.9 879.2,1456.86 879.7,1456.72 880.2,1456.48 880.7,1456.14 881.2,1455.72 881.7,1455.23 882.2,1454.69 882.7,1454.13 883.2,1453.56 883.7,1452.99 884.2,1452.47 884.7,1451.99 885.2,1451.59 885.7,1451.26 886.2,1451.04 886.7,1450.92 887.2,1450.91 887.7,1451.01 888.2,1451.21 888.7,1451.51 889.2,1451.9 889.7,1452.37 890.2,1452.89 890.7,1453.44 891.2,1454.01 891.7,1454.58 892.2,1455.13 892.7,1455.63 893.2,1456.06 893.7,1456.42 894.2,1456.68 894.7,1456.85 895.2,1456.9 895.7,1456.85 896.2,1456.68 896.7,1456.42 897.2,1456.06 897.7,1455.63 898.2,1455.13 898.7,1454.58 899.2,1454.01 899.7,1453.44 900.2,1452.89 900.7,1452.37 901.2,1451.9 901.7,1451.51 902.2,1451.21 902.7,1451.01 903.2,1450.91 903.7,1450.92 904.2,1451.04 904.7,1451.26 905.2,1451.59 905.7,1451.99 906.2,1452.47 906.7,1452.99 907.2,1453.56 907.7,1454.13 908.2,1454.69 908.7,1455.23 909.2,1455.72 909.7,1456.14 910.2,1456.48 910.7,1456.72 911.2,1456.86 911.7,1456.9 912.2,1456.82 912.7,1456.64 913.2,1456.35 913.7,1455.98 914.2,1455.53 914.7,1455.02 915.2,1454.47 915.7,1453.9 916.2,1453.33 916.7,1452.78 917.2,1452.27 917.7,1451.82 918.2,1451.45 918.7,1451.16 919.2,1450.98 919.7,1450.9 920.2,1450.94 920.7,1451.08 921.2,1451.32 921.7,1451.66 922.2,1452.08 922.7,1452.57 923.2,1453.11 923.7,1453.67 924.2,1454.24 924.7,1454.81 925.2,1455.33 925.7,1455.81 926.2,1456.21 926.7,1456.54 927.2,1456.76 927.7,1456.88 928.2,1456.89 928.7,1456.79 929.2,1456.59 929.7,1456.29 930.2,1455.9 930.7,1455.43 931.2,1454.91 931.7,1454.36 932.2,1453.79 932.7,1453.22 933.2,1452.67 933.7,1452.17 934.2,1451.74 934.7,1451.38 935.2,1451.12 935.7,1450.95 936.2,1450.9 936.7,1450.95 937.2,1451.12 937.7,1451.38 938.2,1451.74 938.7,1452.17 939.2,1452.67 939.7,1453.22 940.2,1453.79 940.7,1454.36 941.2,1454.91 941.7,1455.43 942.2,1455.9 942.7,1456.29 943.2,1456.59 943.7,1456.79 944.2,1456.89 944.7,1456.88 945.2,1456.76 945.7,1456.54 946.2,1456.21 946.7,1455.81 947.2,1455.33 947.7,1454.81 948.2,1454.24 948.7,1453.67 949.2,1453.11 949.7,1452.57 950.2,1452.08 950.7,1451.66 951.2,1451.32 951.7,1451.08 952.2,1450.94 952.7,1450.9 953.2,1450.98 953.7,1451.16 954.2,1451.45 954.7,1451.82 955.2,1452.27 955.7,1452.78 956.2,1453.33 956.7,1453.9 957.2,1454.47 957.7,1455.02 958.2,1455.53 958.7,1455.98 959.2,1456.35 959.7,1456.64 960.2,1456.82 960.7,1456.9 961.2,1456.86 961.7,1456.72 962.2,1456.48 962.7,1456.14 963.2,1455.72 963.7,1455.23 964.2,1454.69 964.7,1454.13 965.2,1453.56 965.7,1452.99 966.2,1452.47 966.7,1451.99 967.2,1451.59 967.7,1451.26 968.2,1451.04 968.7,1450.92 969.2,1450.91 969.7,1451.01 970.2,1451.21 970.7,1451.51 971.2,1451.9 971.7,1452.37 972.2,1452.89 972.7,1453.44 973.2,1454.01 973.7,1454.58 974.2,1455.13 974.7,1455.63 975.2,1456.06 975.7,1456.42 976.2,1456.68 976.7,1456.85 977.2,1456.9 977.7,1456.85 978.2,1456.68 978.7,1456.42 979.2,1456.06 979.7,1455.63 980.2,1455.13 980.7,1454.58 981.2,1454.01 981.7,1453.44 982.2,1452.89 982.7,1452.37 983.2,1451.9 983.7,1451.51 984.2,1451.21 984.7,1451.01 985.2,1450.91 985.7,1450.92 986.2,1451.04 986.7,1451.26 987.2,1451.59 987.7,1451.99 988.2,1452.47 988.7,1452.99 989.2,1453.56 989.7,1454.13 990.2,1454.69 990.7,1455.23 991.2,1455.72 991.7,1456.14 992.2,1456.48 992.7,1456.72 993.2,1456.86 993.7,1456.9 994.2,1456.82 994.7,1456.64 995.2,1456.35 995.7,1455.98 996.2,1455.53 996.7,1455.02 997.2,1454.47 997.7,1453.9 998.2,1453.33 998.7,1452.78 999.2,1452.27 999.7,1451.82 1000.2,1451.45 1000.7,1451.16 1001.2,1450.98 1001.7,1450.9 1002.2,1450.94 1002.7,1451.08 1003.2,1451.32 1003.7,1451.66 1004.2,1452.08 1004.7,1452.57 1005.2,1453.11 1005.7,1453.67 1006.2,1454.24 1006.7,1454.81 1007.2,1455.33 1007.7,1455.81 1008.2,1456.21 1008.7,1456.54 1009.2,1456.76 1009.7,1456.88 1010.2,1456.89 1010.7,1456.79 1011.2,1456.59 1011.7,1456.29 1012.2,1455.9 1012.7,1455.43 1013.2,1454.91 1013.7,1454.36 1014.2,1453.79 1014.7,1453.22 1015.2,1452.67 1015.7,1452.17 1016.2,1451.74 1016.7,1451.38 1017.2,1451.12 1017.7,1450.95 1018.2,1450.9 1018.7,1450.95 1019.2,1451.12 1019.7,1451.38 1020.2,1451.74 1020.7,1452.17 1021.2,1452.67 1021.7,1453.22 1022.2,1453.79 1022.7,1454.36 1023.2,1454.91 1023.7,1455.43 1024.2,1455.9 1024.7,1456.29 1025.2,1456.59 1025.7,1456.79 1026.2,1456.89 1026.7,1456.88 1027.2,1456.76 1027.7,1456.54 1028.2,1456.21 1028.7,1455.81 1029.2,1455.33 1029.7,1454.81 1030.2,1454.24 1030.7,1453.67 1031.2,1453.11 1031.7,1452.57 1032.2,1452.08 1032.7,1451.66 1033.2,1451.32 1033.7,1451.08 1034.2,1450.94 1034.7,1450.9 1035.2,1450.98 1035.7,1451.16 1036.2,1451.45 1036.7,1451.82 1037.2,1452.27 1037.7,1452.78 1038.2,1453.33 1038.7,1453.9 1039.2,1454.47 1039.7,1455.02 1040.2,1455.53 1040.7,1455.98 1041.2,1456.35 1041.7,1456.64 1042.2,1456.82 1042.7,1456.9 1043.2,1456.86 1043.7,1456.72 1044.2,1456.48 1044.7,1456.14 1045.2,1455.72 1045.7,1455.23 1046.2,1454.69 1046.7,1454.13 1047.2,1453.56 1047.7,1452.99 1048.2,1452.47 1048.7,1451.99 1049.2,1451.59 1049.7,1451.26 1050.2,1451.04 1050.7,1450.92 1051.2,1450.91 1051.7,1451.01 1052.2,1451.21 1052.7,1451.51 1053.2,1451.9 1053.7,1452.37 1054.2,1452.89 1054.7,1453.44 1055.2,1454.01 1055.7,1454.58 1056.2,1455.13 1056.7,1455.63 1057.2,1456.06 1057.7,1456.42 1058.2,1456.68 1058.7,1456.85 1059.2,1456.9 1059.7,1456.85 1060.2,1456.68 1060.7,1456.42 1061.2,1456.06 1061.7,1455.63 1062.2,1455.13 1062.7,1454.58 1063.2,1454.01 1063.7,1453.44 1064.2,1452.89 1064.7,1452.37 1065.2,1451.9 1065.7,1451.51 1066.2,1451.21 1066.7,1451.01 1067.2,1450.91 1067.7,1450.92 1068.2,1451.04 1068.7,1451.26 1069.2,1451.59 1069.7,1451.99 1070.2,1452.47 1070.7,1452.99 1071.2,1453.56 1071.7,1454.13 1072.2,1454.69 1072.7,1455.23 1073.2,1455.72 1073.7,1456.14 1074.2,1456.48 1074.7,1456.72 1075.2,1456.86 1075.7,1456.9 1076.2,1456.82 1076.7,1456.64 1077.2,1456.35 1077.7,1455.98 1078.2,1455.53 1078.7,1455.02 1079.2,1454.47 1079.7,1453.9 1080.2,1453.33 1080.7,1452.78 1081.2,1452.27 1081.7,1451.82 1082.2,1451.45 1082.7,1451.16 1083.2,1450.98 1083.7,1450.9 1084.2,1450.94 1084.7,1451.08 1085.2,1451.32 1085.7,1451.66 1086.2,1452.08 1086.7,1452.57 1087.2,1453.11 1087.7,1453.67 1088.2,1454.24 1088.7,1454.81 1089.2,1455.33 1089.7,1455.81 1090.2,1456.21 1090.7,1456.54 1091.2,1456.76" fill="none" stroke="#000" stroke-width="2"/>
<line x1="1080.8" y1="200" x2="1080.8" y2="223.1" stroke="#000" stroke-width="1.5"/>
<polygon points="1080.8,179.2 1071.5,200 1090.1,200" fill="#fff" stroke="#000" stroke-width="1.5" stroke-linejoin="miter"/>
<polygon points="1080.8,242.3 1071.5,223.1 1090.1,223.1" fill="#fff" stroke="#000" stroke-width="1.5" stroke-linejoin="miter"/>
<line x1="1078.8" y1="1026.5" x2="1078.8" y2="1048" stroke="#000" stroke-width="1.5"/>
<polygon points="1078.8,1005.4 1069.2,1026.5 1088.4,1026.5" fill="#fff" stroke="#000" stroke-width="1.5" stroke-linejoin="miter"/>
<polygon points="1078.8,1069.2 1069.2,1048 1088.4,1048" fill="#fff" stroke="#000" stroke-width="1.5" stroke-linejoin="miter"/>
<text x="1103.81" y="640.7" font-size="26" text-anchor="start" textLength="32.65" lengthAdjust="spacingAndGlyphs" >LC</text>
<text x="1104.04" y="1187.9" font-size="26" text-anchor="start" textLength="24.21" lengthAdjust="spacingAndGlyphs" >IS</text>
<text x="1107.09" y="1366.1" font-size="26" text-anchor="start" textLength="32.9" lengthAdjust="spacingAndGlyphs" >LR</text>
<text x="1104.5" y="1465.3" font-size="26" text-anchor="start" textLength="40.48" lengthAdjust="spacingAndGlyphs" >CH</text>
<text x="1104.5" y="1613.8" font-size="26" text-anchor="start" textLength="40.48" lengthAdjust="spacingAndGlyphs" >CH</text>
<polyline points="1095.9,909.7 1096.4,910.4 1096.9,911.08 1097.4,911.7 1097.9,912.25 1098.4,912.69 1098.9,913.03 1099.4,913.23 1099.9,913.3 1100.4,913.23 1100.9,913.03 1101.4,912.69 1101.9,912.25 1102.4,911.7 1102.9,911.08 1103.4,910.4 1103.9,909.7 1104.4,909 1104.9,908.32 1105.4,907.7 1105.9,907.15 1106.4,906.71 1106.9,906.37 1107.4,906.17 1107.9,906.1 1108.4,906.17 1108.9,906.37 1109.4,906.71 1109.9,907.15 1110.4,907.7 1110.9,908.32 1111.4,909 1111.9,909.7 1112.4,910.4 1112.9,911.08 1113.4,911.7 1113.9,912.25 1114.4,912.69 1114.9,913.03 1115.4,913.23 1115.9,913.3 1116.4,913.23 1116.9,913.03 1117.4,912.69 1117.9,912.25 1118.4,911.7 1118.9,911.08 1119.4,910.4 1119.9,909.7 1120.4,909 1120.9,908.32 1121.4,907.7 1121.9,907.15 1122.4,906.71 1122.9,906.37 1123.4,906.17 1123.9,906.1 1124.4,906.17 1124.9,906.37 1125.4,906.71 1125.9,907.15 1126.4,907.7 1126.9,908.32 1127.4,909 1127.9,909.7 1128.4,910.4 1128.9,911.08 1129.4,911.7 1129.9,912.25 1130.4,912.69 1130.9,913.03 1131.4,913.23 1131.9,913.3 1132.4,913.23 1132.9,913.03 1133.4,912.69 1133.9,912.25 1134.4,911.7 1134.9,911.08 1135.4,910.4 1135.9,909.7 1136.4,909 1136.9,908.32 1137.4,907.7 1137.9,907.15 1138.4,906.71 1138.9,906.37 1139.4,906.17 1139.9,906.1 1140.4,906.17 1140.9,906.37 1141.4,906.71 1141.9,907.15 1142.4,907.7 1142.9,908.32 1143.4,909 1143.9,909.7 1144.4,910.4 1144.9,911.08 1145.4,911.7 1145.9,912.25 1146.4,912.69 1146.9,913.03 1147.4,913.23 1147.9,913.3 1148.4,913.23 1148.9,913.03 1149.4,912.69 1149.9,912.25 1150.4,911.7 1150.9,911.08 1151.4,910.4 1151.9,909.7 1152.4,909 1152.9,908.32 1153.4,907.7 1153.9,907.15 1154.4,906.71 1154.9,906.37 1155.4,906.17 1155.9,906.1 1156.4,906.17 1156.9,906.37 1157.4,906.71 1157.9,907.15 1158.4,907.7 1158.9,908.32 1159.4,909 1159.9,909.7 1160.4,910.4 1160.9,911.08 1161.4,911.7 1161.9,912.25 1162.4,912.69 1162.9,913.03 1163.4,913.23 1163.9,913.3 1164.4,913.23 1164.9,913.03 1165.4,912.69 1165.9,912.25 1166.4,911.7 1166.9,911.08 1167.4,910.4 1167.9,909.7 1168.4,909 1168.9,908.32 1169.4,907.7 1169.9,907.15 1170.4,906.71 1170.9,906.37 1171.4,906.17 1171.9,906.1 1172.4,906.17 1172.9,906.37 1173.4,906.71 1173.9,907.15 1174.4,907.7 1174.9,908.32 1175.4,909 1175.9,909.7 1176.4,910.4 1176.9,911.08 1177.4,911.7 1177.9,912.25 1178.4,912.69 1178.9,913.03 1179.4,913.23 1179.9,913.3 1180.4,913.23 1180.9,913.03 1181.4,912.69 1181.9,912.25 1182.4,911.7 1182.9,911.08 1183.4,910.4 1183.9,909.7 1184.4,909 1184.9,908.32 1185.4,907.7 1185.9,907.15 1186.4,906.71 1186.9,906.37 1187.4,906.17 1187.9,906.1 1188.4,906.17 1188.9,906.37 1189.4,906.71 1189.9,907.15 1190.4,907.7 1190.9,908.32 1191.4,909 1191.9,909.7 1192.4,910.4 1192.9,911.08 1193.4,911.7 1193.9,912.25 1194.4,912.69 1194.9,913.03 1195.4,913.23 1195.9,913.3 1196.4,913.23 1196.9,913.03 1197.4,912.69 1197.9,912.25 1198.4,911.7 1198.9,911.08 1199.4,910.4 1199.9,909.7 1200.4,909 1200.9,908.32 1201.4,907.7 1201.9,907.15 1202.4,906.71 1202.9,906.37 1203.4,906.17 1203.9,906.1 1204.4,906.17 1204.9,906.37 1205.4,906.71 1205.9,907.15 1206.4,907.7 1206.9,908.32 1207.4,909 1207.9,909.7 1208.4,910.4 1208.9,911.08 1209.4,911.7 1209.9,912.25 1210.4,912.69 1210.9,913.03 1211.4,913.23 1211.9,913.3 1212.4,913.23 1212.9,913.03 1213.4,912.69 1213.9,912.25 1214.4,911.7 1214.9,911.08 1215.4,910.4 1215.9,909.7 1216.4,909 1216.9,908.32 1217.4,907.7 1217.9,907.15 1218.4,906.71 1218.9,906.37 1219.4,906.17 1219.9,906.1 1220.4,906.17 1220.9,906.37 1221.4,906.71 1221.9,907.15 1222.4,907.7 1222.9,908.32 1223.4,909 1223.9,909.7 1224.4,910.4 1224.9,911.08 1225.4,911.7 1225.9,912.25 1226.4,912.69 1226.9,913.03 1227.4,913.23 1227.9,913.3 1228.4,913.23 1228.9,913.03 1229.4,912.69 1229.9,912.25 1230.4,911.7 1230.9,911.08 1231.4,910.4 1231.9,909.7 1232.4,909 1232.9,908.32 1233.4,907.7 1233.9,907.15 1234.4,906.71 1234.9,906.37 1235.4,906.17 1235.9,906.1 1236.4,906.17 1236.9,906.37 1237.4,906.71 1237.9,907.15 1238.4,907.7 1238.9,908.32 1239.4,909 1239.9,909.7 1240.4,910.4 1240.9,911.08 1241.4,911.7 1241.9,912.25 1242.4,912.69 1242.9,913.03 1243.4,913.23 1243.9,913.3 1244.4,913.23 1244.9,913.03 1245.4,912.69 1245.9,912.25 1246.4,911.7 1246.9,911.08 1247.4,910.4 1247.9,909.7 1248.4,909 1248.9,908.32 1249.4,907.7 1249.9,907.15 1250.4,906.71 1250.9,906.37 1251.4,906.17 1251.9,906.1 1252.4,906.17 1252.9,906.37 1253.4,906.71 1253.9,907.15 1254.4,907.7 1254.9,908.32 1255.4,909 1255.9,909.7 1256.4,910.4 1256.9,911.08 1257.4,911.7 1257.9,912.25 1258.4,912.69 1258.9,913.03 1259.4,913.23 1259.9,913.3 1260.4,913.23 1260.9,913.03 1261.4,912.69 1261.9,912.25 1262.4,911.7 1262.9,911.08 1263.4,910.4 1263.9,909.7 1264.4,909 1264.9,908.32 1265.4,907.7 1265.9,907.15 1266.4,906.71 1266.9,906.37 1267.4,906.17 1267.9,906.1 1268.4,906.17 1268.9,906.37 1269.4,906.71 1269.9,907.15 1270.4,907.7 1270.9,908.32 1271.4,909 1271.9,909.7 1272.4,910.4 1272.9,911.08 1273.4,911.7 1273.9,912.25 1274.4,912.69 1274.9,913.03 1275.4,913.23 1275.9,913.3 1276.4,913.23 1276.9,913.03 1277.4,912.69 1277.9,912.25 1278.4,911.7 1278.9,911.08 1279.4,910.4 1279.9,909.7 1280.4,909 1280.9,908.32 1281.4,907.7 1281.9,907.15 1282.4,906.71 1282.9,906.37 1283.4,906.17 1283.9,906.1 1284.4,906.17 1284.9,906.37 1285.4,906.71 1285.9,907.15 1286.4,907.7 1286.9,908.32 1287.4,909 1287.9,909.7" fill="none" stroke="#000" stroke-width="2"/>
<polyline points="1096.3,1314.3 1096.8,1314.91 1097.3,1315.51 1097.8,1316.06 1098.3,1316.57 1098.8,1317.01 1099.3,1317.38 1099.8,1317.65 1100.3,1317.82 1100.8,1317.9 1101.3,1317.87 1101.8,1317.73 1102.3,1317.5 1102.8,1317.17 1103.3,1316.76 1103.8,1316.27 1104.3,1315.73 1104.8,1315.15 1105.3,1314.55 1105.8,1313.93 1106.3,1313.33 1106.8,1312.75 1107.3,1312.22 1107.8,1311.75 1108.3,1311.36 1108.8,1311.05 1109.3,1310.83 1109.8,1310.72 1110.3,1310.71 1110.8,1310.8 1111.3,1311 1111.8,1311.29 1112.3,1311.67 1112.8,1312.12 1113.3,1312.64 1113.8,1313.21 1114.3,1313.81 1114.8,1314.42 1115.3,1315.03 1115.8,1315.62 1116.3,1316.17 1116.8,1316.67 1117.3,1317.09 1117.8,1317.44 1118.3,1317.69 1118.8,1317.85 1119.3,1317.9 1119.8,1317.85 1120.3,1317.69 1120.8,1317.44 1121.3,1317.09 1121.8,1316.67 1122.3,1316.17 1122.8,1315.62 1123.3,1315.03 1123.8,1314.42 1124.3,1313.81 1124.8,1313.21 1125.3,1312.64 1125.8,1312.12 1126.3,1311.67 1126.8,1311.29 1127.3,1311 1127.8,1310.8 1128.3,1310.71 1128.8,1310.72 1129.3,1310.83 1129.8,1311.05 1130.3,1311.36 1130.8,1311.75 1131.3,1312.22 1131.8,1312.75 1132.3,1313.33 1132.8,1313.93 1133.3,1314.55 1133.8,1315.15 1134.3,1315.73 1134.8,1316.27 1135.3,1316.76 1135.8,1317.17 1136.3,1317.5 1136.8,1317.73 1137.3,1317.87 1137.8,1317.9 1138.3,1317.82 1138.8,1317.65 1139.3,1317.38 1139.8,1317.01 1140.3,1316.57 1140.8,1316.06 1141.3,1315.51 1141.8,1314.91 1142.3,1314.3 1142.8,1313.69 1143.3,1313.09 1143.8,1312.54 1144.3,1312.03 1144.8,1311.59 1145.3,1311.22 1145.8,1310.95 1146.3,1310.78 1146.8,1310.7 1147.3,1310.73 1147.8,1310.87 1148.3,1311.1 1148.8,1311.43 1149.3,1311.84 1149.8,1312.33 1150.3,1312.87 1150.8,1313.45 1151.3,1314.05 1151.8,1314.67 1152.3,1315.27 1152.8,1315.85 1153.3,1316.38 1153.8,1316.85 1154.3,1317.24 1154.8,1317.55 1155.3,1317.77 1155.8,1317.88 1156.3,1317.89 1156.8,1317.8 1157.3,1317.6 1157.8,1317.31 1158.3,1316.93 1158.8,1316.48 1159.3,1315.96 1159.8,1315.39 1160.3,1314.79 1160.8,1314.18 1161.3,1313.57 1161.8,1312.98 1162.3,1312.43 1162.8,1311.93 1163.3,1311.51 1163.8,1311.16 1164.3,1310.91 1164.8,1310.75 1165.3,1310.7 1165.8,1310.75 1166.3,1310.91 1166.8,1311.16 1167.3,1311.51 1167.8,1311.93 1168.3,1312.43 1168.8,1312.98 1169.3,1313.57 1169.8,1314.18 1170.3,1314.79 1170.8,1315.39 1171.3,1315.96 1171.8,1316.48 1172.3,1316.93 1172.8,1317.31 1173.3,1317.6 1173.8,1317.8 1174.3,1317.89 1174.8,1317.88 1175.3,1317.77 1175.8,1317.55 1176.3,1317.24 1176.8,1316.85 1177.3,1316.38 1177.8,1315.85 1178.3,1315.27 1178.8,1314.67 1179.3,1314.05 1179.8,1313.45 1180.3,1312.87 1180.8,1312.33 1181.3,1311.84 1181.8,1311.43 1182.3,1311.1 1182.8,1310.87 1183.3,1310.73 1183.8,1310.7 1184.3,1310.78 1184.8,1310.95 1185.3,1311.22 1185.8,1311.59 1186.3,1312.03 1186.8,1312.54 1187.3,1313.09 1187.8,1313.69 1188.3,1314.3 1188.8,1314.91 1189.3,1315.51 1189.8,1316.06 1190.3,1316.57 1190.8,1317.01 1191.3,1317.38 1191.8,1317.65 1192.3,1317.82 1192.8,1317.9 1193.3,1317.87 1193.8,1317.73 1194.3,1317.5 1194.8,1317.17 1195.3,1316.76 1195.8,1316.27 1196.3,1315.73 1196.8,1315.15 1197.3,1314.55 1197.8,1313.93 1198.3,1313.33 1198.8,1312.75 1199.3,1312.22 1199.8,1311.75 1200.3,1311.36 1200.8,1311.05 1201.3,1310.83 1201.8,1310.72 1202.3,1310.71 1202.8,1310.8 1203.3,1311 1203.8,1311.29 1204.3,1311.67 1204.8,1312.12 1205.3,1312.64 1205.8,1313.21 1206.3,1313.81 1206.8,1314.42 1207.3,1315.03 1207.8,1315.62 1208.3,1316.17 1208.8,1316.67 1209.3,1317.09 1209.8,1317.44 1210.3,1317.69 1210.8,1317.85 1211.3,1317.9 1211.8,1317.85 1212.3,1317.69 1212.8,1317.44 1213.3,1317.09 1213.8,1316.67 1214.3,1316.17 1214.8,1315.62 1215.3,1315.03 1215.8,1314.42 1216.3,1313.81 1216.8,1313.21 1217.3,1312.64 1217.8,1312.12 1218.3,1311.67 1218.8,1311.29 1219.3,1311 1219.8,1310.8 1220.3,1310.71 1220.8,1310.72 1221.3,1310.83 1221.8,1311.05 1222.3,1311.36 1222.8,1311.75 1223.3,1312.22 1223.8,1312.75 1224.3,1313.33 1224.8,1313.93 1225.3,1314.55 1225.8,1315.15 1226.3,1315.73 1226.8,1316.27 1227.3,1316.76 1227.8,1317.17 1228.3,1317.5 1228.8,1317.73 1229.3,1317.87 1229.8,1317.9 1230.3,1317.82 1230.8,1317.65 1231.3,1317.38 1231.8,1317.01 1232.3,1316.57 1232.8,1316.06 1233.3,1315.51 1233.8,1314.91 1234.3,1314.3 1234.8,1313.69 1235.3,1313.09 1235.8,1312.54 1236.3,1312.03 1236.8,1311.59 1237.3,1311.22 1237.8,1310.95 1238.3,1310.78 1238.8,1310.7 1239.3,1310.73 1239.8,1310.87 1240.3,1311.1 1240.8,1311.43 1241.3,1311.84 1241.8,1312.33 1242.3,1312.87 1242.8,1313.45 1243.3,1314.05 1243.8,1314.67 1244.3,1315.27 1244.8,1315.85 1245.3,1316.38 1245.8,1316.85 1246.3,1317.24 1246.8,1317.55 1247.3,1317.77 1247.8,1317.88 1248.3,1317.89 1248.8,1317.8 1249.3,1317.6 1249.8,1317.31 1250.3,1316.93 1250.8,1316.48 1251.3,1315.96 1251.8,1315.39 1252.3,1314.79 1252.8,1314.18 1253.3,1313.57 1253.8,1312.98 1254.3,1312.43 1254.8,1311.93 1255.3,1311.51 1255.8,1311.16 1256.3,1310.91 1256.8,1310.75 1257.3,1310.7 1257.8,1310.75 1258.3,1310.91 1258.8,1311.16 1259.3,1311.51 1259.8,1311.93 1260.3,1312.43 1260.8,1312.98 1261.3,1313.57 1261.8,1314.18 1262.3,1314.79 1262.8,1315.39 1263.3,1315.96 1263.8,1316.48 1264.3,1316.93 1264.8,1317.31 1265.3,1317.6 1265.8,1317.8 1266.3,1317.89 1266.8,1317.88 1267.3,1317.77 1267.8,1317.55 1268.3,1317.24 1268.8,1316.85 1269.3,1316.38 1269.8,1315.85 1270.3,1315.27 1270.8,1314.67 1271.3,1314.05 1271.8,1313.45 1272.3,1312.87 1272.8,1312.33 1273.3,1311.84 1273.8,1311.43 1274.3,1311.1 1274.8,1310.87 1275.3,1310.73 1275.8,1310.7 1276.3,1310.78 1276.8,1310.95 1277.3,1311.22 1277.8,1311.59 1278.3,1312.03 1278.8,1312.54 1279.3,1313.09 1279.8,1313.69 1280.3,1314.3 1280.8,1314.91 1281.3,1315.51 1281.8,1316.06 1282.3,1316.57 1282.8,1317.01 1283.3,1317.38 1283.8,1317.65 1284.3,1317.82 1284.8,1317.9 1285.3,1317.87 1285.8,1317.73 1286.3,1317.5 1286.8,1317.17 1287.3,1316.76 1287.8,1316.27 1288.3,1315.73 1288.8,1315.15 1289.3,1314.55 1289.8,1313.93 1290.3,1313.33 1290.8,1312.75 1291.3,1312.22 1291.8,1311.75 1292.3,1311.36 1292.8,1311.05 1293.3,1310.83 1293.8,1310.72 1294.3,1310.71 1294.8,1310.8 1295.3,1311 1295.8,1311.29 1296.3,1311.67 1296.8,1312.12 1297.3,1312.64 1297.8,1313.21 1298.3,1313.81 1298.8,1314.42 1299.3,1315.03 1299.8,1315.62 1300.3,1316.17 1300.8,1316.67 1301.3,1317.09 1301.8,1317.44 1302.3,1317.69 1302.8,1317.85 1303.3,1317.9 1303.8,1317.85 1304.3,1317.69 1304.8,1317.44 1305.3,1317.09 1305.8,1316.67 1306.3,1316.17 1306.8,1315.62 1307.3,1315.03 1307.8,1314.42 1308.3,1313.81 1308.8,1313.21 1309.3,1312.64 1309.8,1312.12 1310.3,1311.67 1310.8,1311.29 1311.3,1311 1311.8,1310.8 1312.3,1310.71 1312.8,1310.72 1313.3,1310.83 1313.8,1311.05 1314.3,1311.36 1314.8,1311.75 1315.3,1312.22 1315.8,1312.75 1316.3,1313.33 1316.8,1313.93 1317.3,1314.55 1317.8,1315.15 1318.3,1315.73 1318.8,1316.27 1319.3,1316.76 1319.8,1317.17 1320.3,1317.5 1320.8,1317.73 1321.3,1317.87 1321.8,1317.9 1322.3,1317.82 1322.8,1317.65 1323.3,1317.38 1323.8,1317.01 1324.3,1316.57 1324.8,1316.06 1325.3,1315.51 1325.8,1314.91 1326.3,1314.3 1326.8,1313.69 1327.3,1313.09" fill="none" stroke="#000" stroke-width="2"/>
<polyline points="1096.3,1402.9 1096.8,1403.51 1097.3,1404.11 1097.8,1404.66 1098.3,1405.17 1098.8,1405.61 1099.3,1405.98 1099.8,1406.25 1100.3,1406.42 1100.8,1406.5 1101.3,1406.47 1101.8,1406.33 1102.3,1406.1 1102.8,1405.77 1103.3,1405.36 1103.8,1404.87 1104.3,1404.33 1104.8,1403.75 1105.3,1403.15 1105.8,1402.53 1106.3,1401.93 1106.8,1401.35 1107.3,1400.82 1107.8,1400.35 1108.3,1399.96 1108.8,1399.65 1109.3,1399.43 1109.8,1399.32 1110.3,1399.31 1110.8,1399.4 1111.3,1399.6 1111.8,1399.89 1112.3,1400.27 1112.8,1400.72 1113.3,1401.24 1113.8,1401.81 1114.3,1402.41 1114.8,1403.02 1115.3,1403.63 1115.8,1404.22 1116.3,1404.77 1116.8,1405.27 1117.3,1405.69 1117.8,1406.04 1118.3,1406.29 1118.8,1406.45 1119.3,1406.5 1119.8,1406.45 1120.3,1406.29 1120.8,1406.04 1121.3,1405.69 1121.8,1405.27 1122.3,1404.77 1122.8,1404.22 1123.3,1403.63 1123.8,1403.02 1124.3,1402.41 1124.8,1401.81 1125.3,1401.24 1125.8,1400.72 1126.3,1400.27 1126.8,1399.89 1127.3,1399.6 1127.8,1399.4 1128.3,1399.31 1128.8,1399.32 1129.3,1399.43 1129.8,1399.65 1130.3,1399.96 1130.8,1400.35 1131.3,1400.82 1131.8,1401.35 1132.3,1401.93 1132.8,1402.53 1133.3,1403.15 1133.8,1403.75 1134.3,1404.33 1134.8,1404.87 1135.3,1405.36 1135.8,1405.77 1136.3,1406.1 1136.8,1406.33 1137.3,1406.47 1137.8,1406.5 1138.3,1406.42 1138.8,1406.25 1139.3,1405.98 1139.8,1405.61 1140.3,1405.17 1140.8,1404.66 1141.3,1404.11 1141.8,1403.51 1142.3,1402.9 1142.8,1402.29 1143.3,1401.69 1143.8,1401.14 1144.3,1400.63 1144.8,1400.19 1145.3,1399.82 1145.8,1399.55 1146.3,1399.38 1146.8,1399.3 1147.3,1399.33 1147.8,1399.47 1148.3,1399.7 1148.8,1400.03 1149.3,1400.44 1149.8,1400.93 1150.3,1401.47 1150.8,1402.05 1151.3,1402.65 1151.8,1403.27 1152.3,1403.87 1152.8,1404.45 1153.3,1404.98 1153.8,1405.45 1154.3,1405.84 1154.8,1406.15 1155.3,1406.37 1155.8,1406.48 1156.3,1406.49 1156.8,1406.4 1157.3,1406.2 1157.8,1405.91 1158.3,1405.53 1158.8,1405.08 1159.3,1404.56 1159.8,1403.99 1160.3,1403.39 1160.8,1402.78 1161.3,1402.17 1161.8,1401.58 1162.3,1401.03 1162.8,1400.53 1163.3,1400.11 1163.8,1399.76 1164.3,1399.51 1164.8,1399.35 1165.3,1399.3 1165.8,1399.35 1166.3,1399.51 1166.8,1399.76 1167.3,1400.11 1167.8,1400.53 1168.3,1401.03 1168.8,1401.58 1169.3,1402.17 1169.8,1402.78 1170.3,1403.39 1170.8,1403.99 1171.3,1404.56 1171.8,1405.08 1172.3,1405.53 1172.8,1405.91 1173.3,1406.2 1173.8,1406.4 1174.3,1406.49 1174.8,1406.48 1175.3,1406.37 1175.8,1406.15 1176.3,1405.84 1176.8,1405.45 1177.3,1404.98 1177.8,1404.45 1178.3,1403.87 1178.8,1403.27 1179.3,1402.65 1179.8,1402.05 1180.3,1401.47 1180.8,1400.93 1181.3,1400.44 1181.8,1400.03 1182.3,1399.7 1182.8,1399.47 1183.3,1399.33 1183.8,1399.3 1184.3,1399.38 1184.8,1399.55 1185.3,1399.82 1185.8,1400.19 1186.3,1400.63 1186.8,1401.14 1187.3,1401.69 1187.8,1402.29 1188.3,1402.9 1188.8,1403.51 1189.3,1404.11 1189.8,1404.66 1190.3,1405.17 1190.8,1405.61 1191.3,1405.98 1191.8,1406.25 1192.3,1406.42 1192.8,1406.5 1193.3,1406.47 1193.8,1406.33 1194.3,1406.1 1194.8,1405.77 1195.3,1405.36 1195.8,1404.87 1196.3,1404.33 1196.8,1403.75 1197.3,1403.15 1197.8,1402.53 1198.3,1401.93 1198.8,1401.35 1199.3,1400.82 1199.8,1400.35 1200.3,1399.96 1200.8,1399.65 1201.3,1399.43 1201.8,1399.32 1202.3,1399.31 1202.8,1399.4 1203.3,1399.6 1203.8,1399.89 1204.3,1400.27 1204.8,1400.72 1205.3,1401.24 1205.8,1401.81 1206.3,1402.41 1206.8,1403.02 1207.3,1403.63 1207.8,1404.22 1208.3,1404.77 1208.8,1405.27 1209.3,1405.69 1209.8,1406.04 1210.3,1406.29 1210.8,1406.45 1211.3,1406.5 1211.8,1406.45 1212.3,1406.29 1212.8,1406.04 1213.3,1405.69 1213.8,1405.27 1214.3,1404.77 1214.8,1404.22 1215.3,1403.63 1215.8,1403.02 1216.3,1402.41 1216.8,1401.81 1217.3,1401.24 1217.8,1400.72 1218.3,1400.27 1218.8,1399.89 1219.3,1399.6 1219.8,1399.4 1220.3,1399.31 1220.8,1399.32 1221.3,1399.43 1221.8,1399.65 1222.3,1399.96 1222.8,1400.35 1223.3,1400.82 1223.8,1401.35 1224.3,1401.93 1224.8,1402.53 1225.3,1403.15 1225.8,1403.75 1226.3,1404.33 1226.8,1404.87 1227.3,1405.36 1227.8,1405.77 1228.3,1406.1 1228.8,1406.33 1229.3,1406.47 1229.8,1406.5 1230.3,1406.42 1230.8,1406.25 1231.3,1405.98 1231.8,1405.61 1232.3,1405.17 1232.8,1404.66 1233.3,1404.11 1233.8,1403.51 1234.3,1402.9 1234.8,1402.29 1235.3,1401.69 1235.8,1401.14 1236.3,1400.63 1236.8,1400.19 1237.3,1399.82 1237.8,1399.55 1238.3,1399.38 1238.8,1399.3 1239.3,1399.33 1239.8,1399.47 1240.3,1399.7 1240.8,1400.03 1241.3,1400.44 1241.8,1400.93 1242.3,1401.47 1242.8,1402.05 1243.3,1402.65 1243.8,1403.27 1244.3,1403.87 1244.8,1404.45 1245.3,1404.98 1245.8,1405.45 1246.3,1405.84 1246.8,1406.15 1247.3,1406.37 1247.8,1406.48 1248.3,1406.49 1248.8,1406.4 1249.3,1406.2 1249.8,1405.91 1250.3,1405.53 1250.8,1405.08 1251.3,1404.56 1251.8,1403.99 1252.3,1403.39 1252.8,1402.78 1253.3,1402.17 1253.8,1401.58 1254.3,1401.03 1254.8,1400.53 1255.3,1400.11 1255.8,1399.76 1256.3,1399.51 1256.8,1399.35 1257.3,1399.3 1257.8,1399.35 1258.3,1399.51 1258.8,1399.76 1259.3,1400.11 1259.8,1400.53 1260.3,1401.03 1260.8,1401.58 1261.3,1402.17 1261.8,1402.78 1262.3,1403.39 1262.8,1403.99 1263.3,1404.56 1263.8,1405.08 1264.3,1405.53 1264.8,1405.91 1265.3,1406.2 1265.8,1406.4 1266.3,1406.49 1266.8,1406.48 1267.3,1406.37 1267.8,1406.15 1268.3,1405.84 1268.8,1405.45 1269.3,1404.98 1269.8,1404.45 1270.3,1403.87 1270.8,1403.27 1271.3,1402.65 1271.8,1402.05 1272.3,1401.47 1272.8,1400.93 1273.3,1400.44 1273.8,1400.03 1274.3,1399.7 1274.8,1399.47 1275.3,1399.33 1275.8,1399.3 1276.3,1399.38 1276.8,1399.55 1277.3,1399.82 1277.8,1400.19 1278.3,1400.63 1278.8,1401.14 1279.3,1401.69 1279.8,1402.29 1280.3,1402.9 1280.8,1403.51 1281.3,1404.11 1281.8,1404.66 1282.3,1405.17 1282.8,1405.61 1283.3,1405.98 1283.8,1406.25 1284.3,1406.42 1284.8,1406.5 1285.3,1406.47 1285.8,1406.33 1286.3,1406.1 1286.8,1405.77 1287.3,1405.36 1287.8,1404.87 1288.3,1404.33 1288.8,1403.75 1289.3,1403.15 1289.8,1402.53 1290.3,1401.93 1290.8,1401.35 1291.3,1400.82 1291.8,1400.35 1292.3,1399.96 1292.8,1399.65 1293.3,1399.43 1293.8,1399.32 1294.3,1399.31 1294.8,1399.4 1295.3,1399.6 1295.8,1399.89 1296.3,1400.27 1296.8,1400.72 1297.3,1401.24 1297.8,1401.81 1298.3,1402.41 1298.8,1403.02 1299.3,1403.63 1299.8,1404.22 1300.3,1404.77 1300.8,1405.27 1301.3,1405.69 1301.8,1406.04 1302.3,1406.29 1302.8,1406.45 1303.3,1406.5 1303.8,1406.45 1304.3,1406.29 1304.8,1406.04" fill="none" stroke="#000" stroke-width="2"/>
<polyline points="1096.3,1492.2 1096.8,1493.8 1097.3,1495.05 1097.8,1495.66 1098.3,1495.51 1098.8,1494.62 1099.3,1493.19 1099.8,1491.54 1100.3,1490.04 1100.8,1489.02 1101.3,1488.7 1101.8,1489.17 1102.3,1490.31 1102.8,1491.87 1103.3,1493.5 1103.8,1494.85 1104.3,1495.6 1104.8,1495.6 1105.3,1494.85 1105.8,1493.5 1106.3,1491.87 1106.8,1490.31 1107.3,1489.17 1107.8,1488.7 1108.3,1489.02 1108.8,1490.04 1109.3,1491.54 1109.8,1493.19 1110.3,1494.62 1110.8,1495.51 1111.3,1495.66 1111.8,1495.05 1112.3,1493.8 1112.8,1492.2 1113.3,1490.6 1113.8,1489.35 1114.3,1488.74 1114.8,1488.89 1115.3,1489.78 1115.8,1491.21 1116.3,1492.86 1116.8,1494.36 1117.3,1495.38 1117.8,1495.7 1118.3,1495.23 1118.8,1494.09 1119.3,1492.53 1119.8,1490.9 1120.3,1489.55 1120.8,1488.8 1121.3,1488.8 1121.8,1489.55 1122.3,1490.9 1122.8,1492.53 1123.3,1494.09 1123.8,1495.23 1124.3,1495.7 1124.8,1495.38 1125.3,1494.36 1125.8,1492.86 1126.3,1491.21 1126.8,1489.78 1127.3,1488.89 1127.8,1488.74 1128.3,1489.35 1128.8,1490.6 1129.3,1492.2 1129.8,1493.8 1130.3,1495.05 1130.8,1495.66 1131.3,1495.51 1131.8,1494.62 1132.3,1493.19 1132.8,1491.54 1133.3,1490.04 1133.8,1489.02 1134.3,1488.7 1134.8,1489.17 1135.3,1490.31 1135.8,1491.87 1136.3,1493.5 1136.8,1494.85 1137.3,1495.6 1137.8,1495.6 1138.3,1494.85 1138.8,1493.5 1139.3,1491.87 1139.8,1490.31 1140.3,1489.17 1140.8,1488.7 1141.3,1489.02 1141.8,1490.04 1142.3,1491.54 1142.8,1493.19 1143.3,1494.62 1143.8,1495.51 1144.3,1495.66 1144.8,1495.05 1145.3,1493.8 1145.8,1492.2 1146.3,1490.6 1146.8,1489.35 1147.3,1488.74 1147.8,1488.89 1148.3,1489.78 1148.8,1491.21 1149.3,1492.86 1149.8,1494.36 1150.3,1495.38 1150.8,1495.7 1151.3,1495.23 1151.8,1494.09 1152.3,1492.53 1152.8,1490.9 1153.3,1489.55 1153.8,1488.8 1154.3,1488.8 1154.8,1489.55 1155.3,1490.9 1155.8,1492.53 1156.3,1494.09 1156.8,1495.23 1157.3,1495.7 1157.8,1495.38 1158.3,1494.36 1158.8,1492.86 1159.3,1491.21 1159.8,1489.78 1160.3,1488.89 1160.8,1488.74 1161.3,1489.35 1161.8,1490.6 1162.3,1492.2 1162.8,1493.8 1163.3,1495.05 1163.8,1495.66 1164.3,1495.51 1164.8,1494.62 1165.3,1493.19 1165.8,1491.54 1166.3,1490.04 1166.8,1489.02 1167.3,1488.7 1167.8,1489.17 1168.3,1490.31 1168.8,1491.87 1169.3,1493.5 1169.8,1494.85 1170.3,1495.6 1170.8,1495.6 1171.3,1494.85 1171.8,1493.5 1172.3,1491.87 1172.8,1490.31 1173.3,1489.17 1173.8,1488.7 1174.3,1489.02 1174.8,1490.04 1175.3,1491.54 1175.8,1493.19 1176.3,1494.62 1176.8,1495.51 1177.3,1495.66 1177.8,1495.05 1178.3,1493.8 1178.8,1492.2 1179.3,1490.6 1179.8,1489.35 1180.3,1488.74 1180.8,1488.89 1181.3,1489.78 1181.8,1491.21 1182.3,1492.86 1182.8,1494.36 1183.3,1495.38 1183.8,1495.7 1184.3,1495.23 1184.8,1494.09 1185.3,1492.53 1185.8,1490.9 1186.3,1489.55 1186.8,1488.8 1187.3,1488.8 1187.8,1489.55 1188.3,1490.9 1188.8,1492.53 1189.3,1494.09 1189.8,1495.23 1190.3,1495.7 1190.8,1495.38 1191.3,1494.36 1191.8,1492.86 1192.3,1491.21 1192.8,1489.78 1193.3,1488.89 1193.8,1488.74 1194.3,1489.35 1194.8,1490.6 1195.3,1492.2 1195.8,1493.8 1196.3,1495.05 1196.8,1495.66 1197.3,1495.51 1197.8,1494.62 1198.3,1493.19 1198.8,1491.54 1199.3,1490.04 1199.8,1489.02 1200.3,1488.7 1200.8,1489.17 1201.3,1490.31 1201.8,1491.87" fill="none" stroke="#000" stroke-width="1.6"/>
<polygon points="1114.3,913.9 1117.44,923.57 1127.61,923.57 1119.39,929.55 1122.53,939.23 1114.3,933.25 1106.07,939.23 1109.21,929.55 1100.99,923.57 1111.16,923.57" fill="#237e85"/>
<text x="1135.05" y="934" font-size="18.7" text-anchor="start" textLength="94.94" lengthAdjust="spacingAndGlyphs" >225.9 ± 0.9</text>
<polygon points="1114.5,1250.7 1117.64,1260.37 1127.81,1260.37 1119.59,1266.35 1122.73,1276.03 1114.5,1270.05 1106.27,1276.03 1109.41,1266.35 1101.19,1260.37 1111.36,1260.37" fill="#237e85"/>
<text x="1135.05" y="1272.7" font-size="18.7" text-anchor="start" textLength="95.38" lengthAdjust="spacingAndGlyphs" >231.4 ± 0.3</text>
<polygon points="1114,1398.7 1117.14,1408.37 1127.31,1408.37 1119.09,1414.35 1122.23,1424.03 1114,1418.05 1105.77,1424.03 1108.91,1414.35 1100.69,1408.37 1110.86,1408.37" fill="#237e85"/>
<text x="1131.65" y="1423.5" font-size="18.7" text-anchor="start" textLength="94.7" lengthAdjust="spacingAndGlyphs" >233.7 ± 0.4</text>
<polygon points="1114.3,1545.2 1117.44,1554.87 1127.61,1554.87 1119.39,1560.85 1122.53,1570.53 1114.3,1564.55 1106.07,1570.53 1109.21,1560.85 1100.99,1554.87 1111.16,1554.87" fill="#237e85"/>
<text x="1135.01" y="1565.7" font-size="18.7" text-anchor="start" textLength="99.37" lengthAdjust="spacingAndGlyphs" >236.1 ± 0.4</text>
<text transform="translate(1317.4,909.27) rotate(-90)" x="0" y="0" font-size="25.5" text-anchor="start" textLength="644.79" lengthAdjust="spacingAndGlyphs">LC span from Chrons E7r to E15n (Kent et al., 2014)</text>
<line x1="1310.4" y1="914.7" x2="1310.4" y2="946.5" stroke="#000" stroke-width="1.5"/>
<polygon points="1310.4,977.5 1301.2,946.5 1319.6,946.5" fill="#fff" stroke="#000" stroke-width="1.5" stroke-linejoin="miter"/>
<text x="1276.1" y="998.4" font-size="19.5" text-anchor="start" textLength="46.03" lengthAdjust="spacingAndGlyphs" >~227</text>
<line x1="1312.1" y1="1392" x2="1312.1" y2="1413.8" stroke="#000" stroke-width="1.5"/>
<polygon points="1312.1,1371.1 1302.1,1392 1322.1,1392" fill="#fff" stroke="#000" stroke-width="1.5" stroke-linejoin="miter"/>
<polygon points="1312.1,1434.7 1302.1,1413.8 1322.1,1413.8" fill="#fff" stroke="#000" stroke-width="1.5" stroke-linejoin="miter"/>
<rect x="1327.3" y="143.6" width="86.3" height="1216.1" fill="#000" />
<rect x="1332.4" y="187.8" width="76" height="75.4" fill="#fff" />
<rect x="1332.4" y="337.7" width="76" height="48.9" fill="#fff" />
<rect x="1332.4" y="475.6" width="76" height="51.4" fill="#fff" />
<rect x="1332.4" y="536.6" width="76" height="131.1" fill="#fff" />
<rect x="1332.4" y="683.7" width="76" height="30.6" fill="#fff" />
<rect x="1332.4" y="743" width="76" height="77" fill="#fff" />
<rect x="1332.4" y="851.8" width="76" height="97.8" fill="#fff" />
<rect x="1332.4" y="986.6" width="76" height="22.7" fill="#fff" />
<rect x="1332.4" y="1087.5" width="76" height="22.2" fill="#fff" />
<rect x="1332.4" y="1151.9" width="76" height="24.4" fill="#fff" />
<rect x="1332.4" y="1184.9" width="76" height="7" fill="#fff" />
<rect x="1332.4" y="1216.2" width="76" height="10.7" fill="#fff" />
<rect x="1332.4" y="1251.8" width="76" height="10.5" fill="#fff" />
<rect x="1332.4" y="1276.8" width="76" height="21.7" fill="#fff" />
<rect x="1332.4" y="1323.9" width="76" height="35.8" fill="#fff" />
<line x1="1413.6" y1="187.2" x2="1494" y2="187.2" stroke="#000" stroke-width="2"/>
<line x1="1413.6" y1="337.7" x2="1494" y2="337.7" stroke="#000" stroke-width="2"/>
<line x1="1413.6" y1="475.8" x2="1494" y2="475.8" stroke="#000" stroke-width="2"/>
<line x1="1413.6" y1="537" x2="1494" y2="537" stroke="#000" stroke-width="2"/>
<line x1="1413.6" y1="683.7" x2="1494" y2="683.7" stroke="#000" stroke-width="2"/>
<line x1="1413.6" y1="743.4" x2="1494" y2="743.4" stroke="#000" stroke-width="2"/>
<line x1="1413.6" y1="851.8" x2="1494" y2="851.8" stroke="#000" stroke-width="2"/>
<line x1="1413.6" y1="986.6" x2="1494" y2="986.6" stroke="#000" stroke-width="2"/>
<line x1="1413.6" y1="1087.5" x2="1494" y2="1087.5" stroke="#000" stroke-width="2"/>
<line x1="1413.6" y1="1152.6" x2="1494" y2="1152.6" stroke="#000" stroke-width="2"/>
<line x1="1413.6" y1="1215.2" x2="1494" y2="1215.2" stroke="#000" stroke-width="2"/>
<path d="M1413.6,1252.4 Q1416,1249.7 1420,1249.7 L1487,1249.7 Q1491,1249.7 1494,1252.4" fill="none" stroke="#000" stroke-width="2" stroke-linejoin="miter" />
<path d="M1413.6,1276.6 Q1416,1279.4 1420,1279.4 L1487,1279.4 Q1491,1279.4 1494,1276.6" fill="none" stroke="#000" stroke-width="2" stroke-linejoin="miter" />
<path d="M1413.6,1321.6 Q1416,1324.3 1420,1324.3 L1487,1324.3 Q1491,1324.3 1494,1321.6" fill="none" stroke="#000" stroke-width="2" stroke-linejoin="miter" />
<text x="1434" y="173.7" font-size="24" text-anchor="start" >E15</text>
<text x="1434" y="263.2" font-size="24" text-anchor="start" >E14</text>
<text x="1434" y="414" font-size="24" text-anchor="start" >E13</text>
<text x="1434" y="515.1" font-size="24" text-anchor="start" >E12</text>
<text x="1434" y="613" font-size="24" text-anchor="start" >E11</text>
<text x="1434" y="721.8" font-size="24" text-anchor="start" >E10</text>
<text x="1434" y="805.6" font-size="24" text-anchor="start" >E9</text>
<text x="1434" y="927.7" font-size="24" text-anchor="start" >E8</text>
<text x="1434" y="1045.3" font-size="24" text-anchor="start" >E7</text>
<text x="1434" y="1126" font-size="24" text-anchor="start" >E6</text>
<text x="1434" y="1191.6" font-size="24" text-anchor="start" >E5</text>
<text x="1434" y="1240.7" font-size="24" text-anchor="start" >E4</text>
<text x="1434" y="1272.7" font-size="24" text-anchor="start" >E3</text>
<text x="1434" y="1302.5" font-size="24" text-anchor="start" >E2</text>
<text x="1434" y="1351.2" font-size="24" text-anchor="start" >E1</text>
<line x1="1332.4" y1="1360.7" x2="1495" y2="1360.7" stroke="#000" stroke-width="4.8" stroke-dasharray="5.4,5.7"/>
<line x1="1332.4" y1="1515.2" x2="1495" y2="1515.2" stroke="#000" stroke-width="4.4" stroke-dasharray="5.7,5.4"/>
<line x1="1345.6" y1="1407.6" x2="1345.6" y2="1480.2" stroke="#000" stroke-width="1.5"/>
<polygon points="1345.6,1378.6 1334.6,1407.6 1356.6,1407.6" fill="#fff" stroke="#000" stroke-width="1.5" stroke-linejoin="miter"/>
<polygon points="1345.6,1508.8 1334.6,1480.2 1356.6,1480.2" fill="#fff" stroke="#000" stroke-width="1.5" stroke-linejoin="miter"/>
<text x="1364.95" y="1418.1" font-size="26.7" text-anchor="start" textLength="70.26" lengthAdjust="spacingAndGlyphs" >APTS</text>
<text x="1363.78" y="1452.6" font-size="26.7" text-anchor="start" textLength="120.95" lengthAdjust="spacingAndGlyphs" >Still under</text>
<text x="1363.85" y="1487.1" font-size="26.7" text-anchor="start" textLength="127.9" lengthAdjust="spacingAndGlyphs" >discussion</text>
<rect x="1327" y="1517.3" width="86.9" height="164.7" fill="#000" />
<rect x="1330.3" y="1528.7" width="77.9" height="1.6" fill="#fff" />
<rect x="1330.3" y="1534.4" width="77.9" height="19.4" fill="#fff" />
<rect x="1330.3" y="1574.9" width="77.9" height="2.8" fill="#fff" />
<rect x="1332.8" y="1625" width="75.4" height="32.1" fill="#fff" />
<rect x="1408.2" y="1608.2" width="0.8" height="73.8" fill="#fff" />
<text transform="translate(1434.8,1662.74) rotate(-90)" x="0" y="0" font-size="20" text-anchor="start" textLength="99.66" lengthAdjust="spacingAndGlyphs">Composite</text>
<text transform="translate(1459.6,1665.01) rotate(-90)" x="0" y="0" font-size="20" text-anchor="start" textLength="120.03" lengthAdjust="spacingAndGlyphs">(Hounslow &amp;</text>
<text transform="translate(1484,1662.4) rotate(-90)" x="0" y="0" font-size="20" text-anchor="start" textLength="132.17" lengthAdjust="spacingAndGlyphs">Muttoni, 2010)</text>
<use href="#bfoot" transform="translate(823.9,216.6) scale(1.0113,1.0178)"/>
<use href="#bfoot" transform="translate(827.8,712.2) scale(0.9972,1.0178)"/>
<use href="#bfoot" transform="translate(825.8,952.5) scale(1.0141,1.0245)"/>
<use href="#bfoot" transform="translate(828.5,1056.3) scale(0.9972,1.0245)"/>
<use href="#bfoot" transform="translate(830.2,1207.1) scale(1.0085,1.0089)"/>
<use href="#bfoot" transform="translate(830.2,1324.5) scale(0.9859,1.0111)"/>
<use href="#bfoot" transform="translate(1050.8,954.2) scale(0.9774,1.0134)"/>
<use href="#bfoot" transform="translate(1050.8,1103) scale(0.9774,1.0134)"/>
<use href="#bfoot" transform="translate(1050.8,1340.8) scale(0.9774,1.0111)"/>
<use href="#bfoot" transform="translate(1260.2,1260.6) scale(0.9802,1.0111)"/>
<use href="#bfoot" transform="translate(1264,1330.2) scale(0.9802,1.0045)"/>
<use href="#ytrack" transform="translate(741.5,1210.8) scale(1.0110,1.0833)"/>
<use href="#ytrack" transform="translate(952.3,959.2) scale(1.0303,1.0324)"/>
<use href="#ytrack" transform="translate(980,1138.2) scale(0.9972,1.0741)"/>
<use href="#ytrack" transform="translate(978.5,1340.8) scale(1.0165,1.0324)"/>
<use href="#ytrack" transform="translate(1006.2,1461.5) scale(1.0165,1.0694)"/>
<use href="#otrack" transform="translate(786,946.6) scale(1.0550,0.9896)"/>
<use href="#otrack" transform="translate(788.6,1219) scale(0.9862,0.9763)"/>
<use href="#otrack" transform="translate(782.6,1320.8) scale(1.0275,0.9896)"/>
<use href="#otrack" transform="translate(846.2,1439.5) scale(1.0000,0.9793)"/>
<use href="#otrack" transform="translate(843.9,1519.7) scale(1.0321,0.9808)"/>
<use href="#otrack" transform="translate(1023.8,950.8) scale(1.0275,0.9822)"/>
<use href="#otrack" transform="translate(1023.8,1107.4) scale(1.0275,0.9719)"/>
<use href="#otrack" transform="translate(1050.8,1461.5) scale(1.0550,0.9793)"/>
<use href="#otrack" transform="translate(1255.5,266.3) scale(1.0367,1.0015)"/>
<use href="#otrack" transform="translate(1252.2,798.5) scale(1.0734,0.9896)"/>
<use href="#otrack" transform="translate(1198.4,1322.6) scale(1.0092,0.9778)"/>
<use href="#bdino" transform="translate(976.2,170) scale(0.9402,0.7663)"/>
<use href="#bdino" transform="translate(989.6,373.5) scale(1.0036,1.0153)"/>
<use href="#bdino" transform="translate(1164.4,235.3) scale(1.0054,1.0096)"/>
<use href="#bdino" transform="translate(1179.5,475.1) scale(1.0045,1.0096)"/>
<use href="#bdino" transform="translate(1183.6,757.6) scale(1.0036,1.0230)"/>
<use href="#bdino" transform="translate(1162.2,1180) scale(1.0991,1.2567)"/>
<use href="#orept" transform="translate(1151,309.2) scale(0.8673,0.5836)"/>
<use href="#orept" transform="translate(1131.8,535.3) scale(0.8664,0.5770)"/>
<use href="#orept" transform="translate(1116.8,818.6) scale(0.8664,0.6033)"/>
<use href="#orept" transform="translate(1201.2,1089.7) scale(0.9836,0.9180)"/>
<use href="#orept" transform="translate(1125.1,1506.8) scale(1.0064,1.0525)"/>
<use href="#ydino" transform="translate(1217.1,1134.4) scale(0.8511,0.7610)"/>
<use href="#ydino" transform="translate(1232.1,1496.8) scale(1.0033,1.0141)"/>
<rect x="0.5" y="0.5" width="1494" height="1681" fill="none" stroke="#6f6f6f" stroke-width="1"/></svg>
</body></html>
